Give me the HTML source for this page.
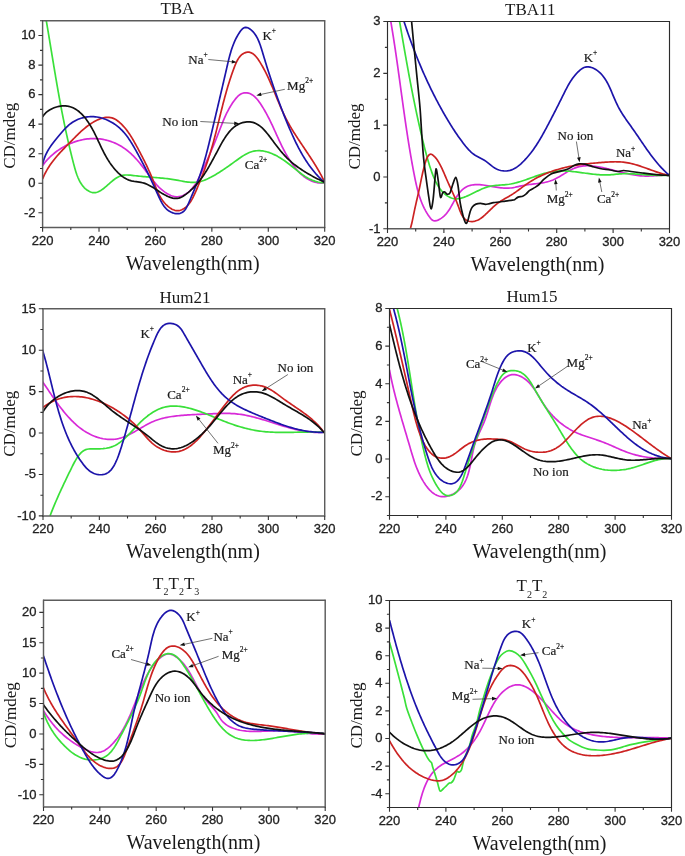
<!DOCTYPE html>
<html><head><meta charset="utf-8"><style>
html,body{margin:0;padding:0;background:#fff;}
svg{display:block;will-change:transform;}
.cv{fill:none;stroke-width:1.7;stroke-linejoin:round;stroke-linecap:round;}
.ax{fill:none;stroke:#6e6e6e;stroke-width:1.2;}
.axL{stroke:#5c5c5c;stroke-width:1.45;}
.axR{stroke:#2c2c2c;stroke-width:1.15;}
.tk{fill:none;stroke:#333;stroke-width:1.1;}
.tl{font-family:"Liberation Sans",sans-serif;font-size:13px;fill:#222;stroke:#222;stroke-width:0.3px;}
.xt{font-family:"Liberation Serif",serif;font-size:20px;fill:#1a1a1a;}
.yt{font-family:"Liberation Serif",serif;font-size:17px;fill:#1a1a1a;}
.tt{font-family:"Liberation Serif",serif;font-size:17px;fill:#1a1a1a;}
.sb{font-size:10px;}
.lb{font-family:"Liberation Serif",serif;font-size:13px;fill:#1a1a1a;stroke:#1a1a1a;stroke-width:0.2px;}
.sp{font-size:7.5px;}
.ar{fill:none;stroke:#333;stroke-width:0.7;}
.ah{fill:#111;stroke:none;}
</style></head><body>
<svg width="685" height="856" viewBox="0 0 685 856">
<clipPath id="c0"><rect x="42.60" y="20.80" width="282.10" height="206.70"/></clipPath>
<path d="M42.79,165.47 L43.66,164.24 L44.56,163.03 L45.52,161.84 L46.51,160.66 L47.54,159.50 L48.62,158.36 L49.73,157.25 L50.87,156.15 L52.06,155.08 L53.27,154.04 L54.52,153.01 L55.80,152.02 L57.11,151.05 L58.45,150.11 L59.81,149.20 L61.20,148.32 L62.61,147.47 L64.04,146.65 L65.50,145.87 L66.97,145.12 L68.46,144.41 L69.97,143.73 L71.50,143.09 L73.03,142.49 L74.58,141.92 L76.15,141.40 L77.72,140.92 L79.30,140.48 L80.88,140.08 L82.47,139.73 L84.07,139.42 L85.67,139.16 L87.27,138.94 L88.86,138.78 L90.46,138.66 L92.06,138.59 L93.65,138.57 L95.23,138.60 L96.82,138.67 L98.39,138.80 L99.96,138.96 L101.52,139.18 L103.07,139.44 L104.61,139.75 L106.15,140.10 L107.67,140.50 L109.18,140.94 L110.67,141.42 L112.16,141.95 L113.62,142.53 L115.07,143.14 L116.51,143.80 L117.93,144.50 L119.33,145.24 L120.71,146.02 L122.07,146.84 L123.41,147.71 L124.73,148.61 L126.02,149.55 L127.30,150.53 L128.55,151.55 L129.77,152.61 L130.98,153.69 L132.16,154.81 L133.33,155.96 L134.47,157.13 L135.60,158.33 L136.70,159.55 L137.79,160.78 L138.87,162.04 L139.92,163.31 L140.96,164.59 L141.99,165.89 L143.00,167.19 L144.00,168.50 L144.98,169.81 L145.96,171.13 L146.92,172.44 L147.89,173.75 L148.85,175.06 L149.82,176.36 L150.79,177.65 L151.77,178.92 L152.76,180.18 L153.77,181.42 L154.79,182.64 L155.83,183.85 L156.89,185.02 L157.98,186.17 L159.10,187.29 L160.25,188.38 L161.43,189.43 L162.65,190.45 L163.91,191.43 L165.21,192.37 L166.56,193.26 L167.95,194.08 L169.37,194.83 L170.83,195.49 L172.31,196.03 L173.81,196.43 L175.33,196.70 L176.86,196.79 L178.40,196.71 L179.94,196.44 L181.47,196.01 L182.96,195.44 L184.42,194.74 L185.82,193.94 L187.15,193.05 L188.42,192.08 L189.61,191.04 L190.75,189.94 L191.83,188.78 L192.86,187.56 L193.84,186.29 L194.77,184.98 L195.66,183.62 L196.51,182.23 L197.33,180.81 L198.12,179.36 L198.89,177.90 L199.63,176.42 L200.35,174.93 L201.06,173.43 L201.76,171.94 L202.45,170.45 L203.14,168.97 L203.82,167.49 L204.50,166.02 L205.17,164.55 L205.83,163.08 L206.49,161.62 L207.15,160.16 L207.80,158.71 L208.45,157.25 L209.09,155.80 L209.72,154.35 L210.35,152.89 L210.98,151.44 L211.60,149.99 L212.22,148.53 L212.83,147.07 L213.45,145.61 L214.05,144.15 L214.65,142.68 L215.25,141.21 L215.85,139.74 L216.44,138.25 L217.03,136.77 L217.61,135.27 L218.19,133.77 L218.77,132.27 L219.35,130.76 L219.93,129.24 L220.52,127.73 L221.11,126.21 L221.71,124.69 L222.31,123.18 L222.93,121.67 L223.56,120.16 L224.20,118.66 L224.85,117.16 L225.53,115.67 L226.22,114.19 L226.93,112.72 L227.67,111.27 L228.43,109.82 L229.21,108.39 L230.02,106.97 L230.86,105.57 L231.73,104.19 L232.63,102.83 L233.56,101.48 L234.53,100.16 L235.54,98.87 L236.59,97.63 L237.69,96.47 L238.85,95.43 L240.06,94.52 L241.33,93.78 L242.67,93.24 L244.08,92.90 L245.52,92.77 L246.98,92.84 L248.42,93.10 L249.82,93.54 L251.16,94.16 L252.45,94.93 L253.68,95.85 L254.87,96.88 L256.01,98.03 L257.11,99.26 L258.17,100.57 L259.19,101.93 L260.17,103.34 L261.13,104.77 L262.05,106.21 L262.95,107.64 L263.82,109.08 L264.67,110.53 L265.49,111.97 L266.30,113.41 L267.08,114.85 L267.85,116.30 L268.59,117.74 L269.32,119.19 L270.04,120.64 L270.75,122.08 L271.44,123.53 L272.12,124.97 L272.80,126.42 L273.46,127.86 L274.12,129.30 L274.78,130.75 L275.43,132.19 L276.08,133.63 L276.73,135.07 L277.38,136.50 L278.04,137.94 L278.69,139.37 L279.35,140.80 L280.02,142.23 L280.70,143.66 L281.39,145.08 L282.08,146.51 L282.79,147.93 L283.51,149.34 L284.25,150.75 L285.00,152.16 L285.77,153.57 L286.57,154.97 L287.38,156.37 L288.21,157.77 L289.06,159.16 L289.94,160.55 L290.85,161.92 L291.78,163.29 L292.74,164.64 L293.72,165.96 L294.73,167.27 L295.76,168.55 L296.83,169.80 L297.92,171.01 L299.04,172.19 L300.19,173.33 L301.37,174.42 L302.58,175.46 L303.82,176.46 L305.10,177.40 L306.40,178.28 L307.74,179.09 L309.11,179.85 L310.51,180.53 L311.94,181.14 L313.41,181.68 L314.92,182.13 L316.46,182.50 L318.04,182.79 L319.65,182.99 L321.30,183.09 L322.98,183.09 L324.71,183.00" stroke="#d82ad8" clip-path="url(#c0)" class="cv"/>
<path d="M46.30,20.79 L46.58,22.43 L46.86,24.06 L47.14,25.69 L47.41,27.31 L47.68,28.93 L47.96,30.55 L48.23,32.17 L48.50,33.78 L48.77,35.39 L49.03,37.00 L49.30,38.60 L49.57,40.20 L49.83,41.80 L50.09,43.40 L50.36,45.00 L50.62,46.59 L50.88,48.18 L51.14,49.77 L51.41,51.35 L51.67,52.94 L51.93,54.52 L52.19,56.10 L52.45,57.68 L52.71,59.26 L52.97,60.83 L53.23,62.41 L53.49,63.98 L53.75,65.55 L54.01,67.12 L54.27,68.69 L54.54,70.26 L54.80,71.82 L55.06,73.39 L55.33,74.95 L55.59,76.52 L55.86,78.08 L56.12,79.64 L56.39,81.20 L56.66,82.76 L56.93,84.32 L57.20,85.88 L57.47,87.44 L57.74,89.00 L58.02,90.56 L58.29,92.11 L58.57,93.67 L58.85,95.23 L59.13,96.79 L59.42,98.34 L59.70,99.90 L59.99,101.46 L60.28,103.02 L60.57,104.57 L60.86,106.13 L61.15,107.69 L61.45,109.25 L61.75,110.81 L62.05,112.37 L62.36,113.93 L62.67,115.50 L62.98,117.06 L63.29,118.62 L63.60,120.19 L63.92,121.76 L64.24,123.32 L64.57,124.89 L64.89,126.46 L65.23,128.03 L65.56,129.61 L65.90,131.18 L66.24,132.76 L66.58,134.33 L66.93,135.91 L67.28,137.49 L67.63,139.08 L67.99,140.66 L68.35,142.25 L68.72,143.84 L69.09,145.43 L69.46,147.02 L69.84,148.62 L70.22,150.21 L70.61,151.81 L71.00,153.42 L71.40,155.02 L71.80,156.63 L72.20,158.24 L72.61,159.85 L73.02,161.47 L73.44,163.09 L73.87,164.71 L74.30,166.33 L74.74,167.94 L75.20,169.55 L75.68,171.14 L76.18,172.71 L76.70,174.26 L77.26,175.78 L77.85,177.26 L78.47,178.72 L79.13,180.13 L79.84,181.50 L80.59,182.82 L81.39,184.09 L82.25,185.29 L83.16,186.44 L84.13,187.52 L85.16,188.53 L86.27,189.47 L87.44,190.33 L88.68,191.09 L89.98,191.74 L91.32,192.24 L92.70,192.57 L94.11,192.70 L95.53,192.61 L96.96,192.28 L98.38,191.74 L99.80,191.02 L101.19,190.17 L102.56,189.23 L103.90,188.22 L105.21,187.15 L106.51,186.05 L107.79,184.93 L109.07,183.80 L110.34,182.68 L111.62,181.57 L112.90,180.51 L114.20,179.50 L115.51,178.56 L116.84,177.69 L118.20,176.93 L119.60,176.28 L121.03,175.75 L122.50,175.37 L124.01,175.13 L125.56,175.01 L127.15,174.99 L128.75,175.05 L130.38,175.18 L132.01,175.35 L133.65,175.55 L135.29,175.74 L136.93,175.93 L138.56,176.10 L140.18,176.26 L141.80,176.42 L143.42,176.56 L145.03,176.70 L146.64,176.84 L148.24,176.97 L149.84,177.10 L151.44,177.23 L153.04,177.35 L154.63,177.48 L156.22,177.61 L157.81,177.75 L159.40,177.89 L160.98,178.04 L162.57,178.19 L164.15,178.35 L165.73,178.53 L167.32,178.71 L168.90,178.91 L170.48,179.12 L172.06,179.35 L173.65,179.59 L175.23,179.85 L176.82,180.13 L178.41,180.43 L180.00,180.73 L181.58,181.03 L183.17,181.32 L184.76,181.60 L186.35,181.84 L187.94,182.06 L189.52,182.22 L191.11,182.34 L192.69,182.39 L194.27,182.37 L195.85,182.27 L197.42,182.09 L198.99,181.81 L200.56,181.45 L202.12,181.00 L203.67,180.48 L205.20,179.89 L206.73,179.25 L208.23,178.56 L209.72,177.83 L211.19,177.07 L212.64,176.27 L214.07,175.47 L215.47,174.65 L216.84,173.82 L218.19,173.00 L219.52,172.16 L220.84,171.32 L222.14,170.48 L223.43,169.62 L224.71,168.76 L225.98,167.88 L227.26,167.00 L228.53,166.10 L229.81,165.19 L231.10,164.27 L232.40,163.34 L233.71,162.39 L235.04,161.43 L236.39,160.45 L237.76,159.46 L239.15,158.47 L240.56,157.49 L241.99,156.53 L243.43,155.61 L244.88,154.74 L246.34,153.93 L247.82,153.18 L249.30,152.53 L250.79,151.97 L252.29,151.51 L253.78,151.15 L255.29,150.90 L256.79,150.73 L258.30,150.66 L259.80,150.68 L261.31,150.78 L262.82,150.96 L264.32,151.22 L265.82,151.55 L267.31,151.95 L268.80,152.41 L270.29,152.94 L271.76,153.52 L273.23,154.16 L274.69,154.86 L276.14,155.59 L277.58,156.37 L279.01,157.20 L280.43,158.05 L281.83,158.94 L283.22,159.86 L284.59,160.81 L285.95,161.78 L287.29,162.76 L288.61,163.76 L289.92,164.77 L291.20,165.79 L292.48,166.81 L293.74,167.83 L294.99,168.84 L296.23,169.85 L297.48,170.85 L298.72,171.83 L299.97,172.79 L301.23,173.73 L302.49,174.65 L303.77,175.54 L305.06,176.39 L306.37,177.21 L307.71,177.98 L309.07,178.71 L310.46,179.40 L311.88,180.03 L313.33,180.61 L314.82,181.12 L316.35,181.58 L317.93,181.97 L319.55,182.29 L321.22,182.54 L322.94,182.71 L324.72,182.80" stroke="#3ae03a" clip-path="url(#c0)" class="cv"/>
<path d="M42.81,178.51 L43.45,176.96 L44.12,175.45 L44.83,173.96 L45.57,172.50 L46.34,171.07 L47.14,169.66 L47.97,168.28 L48.82,166.93 L49.70,165.59 L50.60,164.28 L51.52,162.98 L52.47,161.71 L53.43,160.45 L54.42,159.20 L55.42,157.98 L56.45,156.76 L57.48,155.56 L58.53,154.37 L59.60,153.19 L60.67,152.02 L61.76,150.86 L62.85,149.70 L63.96,148.55 L65.07,147.40 L66.19,146.25 L67.31,145.11 L68.43,143.97 L69.56,142.82 L70.69,141.68 L71.82,140.53 L72.95,139.38 L74.08,138.23 L75.22,137.08 L76.36,135.94 L77.51,134.81 L78.67,133.69 L79.84,132.57 L81.02,131.48 L82.22,130.40 L83.43,129.33 L84.67,128.29 L85.92,127.28 L87.19,126.29 L88.49,125.33 L89.81,124.39 L91.15,123.50 L92.53,122.63 L93.93,121.81 L95.36,121.02 L96.83,120.28 L98.32,119.60 L99.83,118.98 L101.35,118.45 L102.88,118.00 L104.41,117.66 L105.94,117.43 L107.46,117.33 L108.97,117.36 L110.45,117.54 L111.92,117.88 L113.35,118.38 L114.75,119.03 L116.12,119.82 L117.45,120.71 L118.74,121.71 L120.00,122.78 L121.21,123.92 L122.38,125.09 L123.50,126.30 L124.59,127.53 L125.63,128.78 L126.64,130.06 L127.62,131.37 L128.56,132.69 L129.48,134.02 L130.37,135.38 L131.23,136.75 L132.08,138.13 L132.90,139.51 L133.71,140.91 L134.50,142.32 L135.29,143.72 L136.06,145.14 L136.83,146.55 L137.60,147.96 L138.36,149.37 L139.11,150.78 L139.86,152.19 L140.60,153.60 L141.34,155.02 L142.07,156.43 L142.80,157.85 L143.52,159.27 L144.23,160.69 L144.94,162.12 L145.63,163.54 L146.32,164.98 L147.01,166.42 L147.68,167.86 L148.35,169.31 L149.00,170.76 L149.65,172.22 L150.29,173.69 L150.92,175.16 L151.54,176.64 L152.15,178.13 L152.75,179.62 L153.34,181.12 L153.92,182.63 L154.50,184.15 L155.09,185.66 L155.69,187.17 L156.30,188.67 L156.93,190.17 L157.59,191.65 L158.27,193.12 L159.00,194.58 L159.76,196.01 L160.58,197.42 L161.44,198.81 L162.36,200.17 L163.34,201.49 L164.39,202.79 L165.51,204.04 L166.70,205.24 L167.95,206.38 L169.25,207.42 L170.59,208.35 L171.96,209.16 L173.36,209.81 L174.77,210.31 L176.20,210.61 L177.63,210.72 L179.04,210.60 L180.44,210.28 L181.81,209.77 L183.14,209.10 L184.42,208.29 L185.63,207.37 L186.77,206.34 L187.84,205.24 L188.85,204.05 L189.80,202.80 L190.69,201.48 L191.54,200.11 L192.34,198.69 L193.11,197.23 L193.84,195.74 L194.55,194.22 L195.24,192.68 L195.91,191.14 L196.57,189.59 L197.22,188.05 L197.87,186.51 L198.51,184.97 L199.14,183.43 L199.77,181.90 L200.39,180.37 L201.00,178.85 L201.61,177.32 L202.21,175.80 L202.80,174.28 L203.38,172.75 L203.95,171.24 L204.52,169.72 L205.08,168.20 L205.63,166.69 L206.18,165.17 L206.71,163.65 L207.24,162.14 L207.76,160.62 L208.26,159.11 L208.76,157.59 L209.26,156.08 L209.74,154.56 L210.21,153.04 L210.68,151.52 L211.13,150.00 L211.58,148.48 L212.03,146.95 L212.46,145.43 L212.89,143.90 L213.31,142.38 L213.73,140.85 L214.14,139.32 L214.55,137.79 L214.95,136.26 L215.35,134.73 L215.74,133.20 L216.13,131.66 L216.52,130.13 L216.91,128.59 L217.29,127.05 L217.67,125.51 L218.05,123.97 L218.43,122.43 L218.81,120.89 L219.19,119.35 L219.57,117.80 L219.95,116.25 L220.33,114.71 L220.71,113.16 L221.09,111.61 L221.48,110.05 L221.87,108.50 L222.26,106.95 L222.65,105.39 L223.05,103.83 L223.45,102.28 L223.86,100.72 L224.27,99.16 L224.69,97.59 L225.12,96.03 L225.55,94.46 L225.98,92.90 L226.43,91.33 L226.88,89.76 L227.34,88.19 L227.80,86.61 L228.28,85.04 L228.76,83.46 L229.26,81.89 L229.76,80.31 L230.27,78.73 L230.80,77.15 L231.33,75.56 L231.88,73.98 L232.44,72.39 L233.01,70.80 L233.59,69.22 L234.19,67.62 L234.80,66.04 L235.44,64.46 L236.10,62.92 L236.81,61.43 L237.56,59.99 L238.37,58.63 L239.24,57.36 L240.18,56.19 L241.20,55.14 L242.31,54.22 L243.51,53.45 L244.81,52.84 L246.16,52.41 L247.53,52.19 L248.87,52.20 L250.17,52.44 L251.41,52.90 L252.60,53.56 L253.75,54.40 L254.85,55.39 L255.91,56.52 L256.93,57.75 L257.92,59.08 L258.87,60.47 L259.79,61.91 L260.68,63.37 L261.55,64.83 L262.40,66.30 L263.22,67.77 L264.02,69.24 L264.80,70.72 L265.56,72.20 L266.30,73.68 L267.03,75.16 L267.74,76.64 L268.43,78.12 L269.11,79.60 L269.78,81.09 L270.43,82.57 L271.07,84.06 L271.71,85.54 L272.34,87.02 L272.96,88.50 L273.57,89.99 L274.18,91.47 L274.78,92.95 L275.38,94.42 L275.98,95.90 L276.58,97.37 L277.18,98.84 L277.78,100.31 L278.38,101.78 L278.99,103.24 L279.60,104.70 L280.22,106.16 L280.84,107.61 L281.47,109.06 L282.12,110.50 L282.77,111.94 L283.43,113.38 L284.11,114.81 L284.80,116.23 L285.50,117.65 L286.22,119.07 L286.96,120.48 L287.71,121.88 L288.48,123.28 L289.27,124.67 L290.06,126.06 L290.87,127.44 L291.70,128.82 L292.53,130.20 L293.37,131.57 L294.23,132.94 L295.09,134.30 L295.96,135.66 L296.84,137.02 L297.73,138.38 L298.62,139.74 L299.51,141.09 L300.41,142.44 L301.32,143.80 L302.22,145.15 L303.13,146.50 L304.04,147.85 L304.95,149.20 L305.85,150.55 L306.76,151.90 L307.66,153.25 L308.56,154.60 L309.46,155.95 L310.35,157.31 L311.24,158.67 L312.12,160.03 L312.99,161.39 L313.86,162.75 L314.71,164.12 L315.56,165.49 L316.40,166.87 L317.22,168.25 L318.03,169.63 L318.83,171.02 L319.62,172.41 L320.39,173.81 L321.15,175.21 L321.89,176.62 L322.61,178.03 L323.32,179.45 L324.01,180.87 L324.67,182.31" stroke="#cc2222" clip-path="url(#c0)" class="cv"/>
<path d="M42.80,163.50 L43.21,161.85 L43.67,160.24 L44.19,158.67 L44.76,157.14 L45.37,155.65 L46.03,154.20 L46.73,152.77 L47.47,151.37 L48.25,150.01 L49.07,148.66 L49.92,147.34 L50.79,146.03 L51.70,144.75 L52.64,143.47 L53.60,142.21 L54.57,140.96 L55.57,139.71 L56.59,138.47 L57.62,137.23 L58.66,135.99 L59.71,134.74 L60.77,133.49 L61.84,132.24 L62.92,131.01 L64.03,129.78 L65.15,128.59 L66.30,127.42 L67.47,126.29 L68.68,125.20 L69.92,124.17 L71.20,123.20 L72.52,122.29 L73.87,121.45 L75.26,120.67 L76.69,119.96 L78.14,119.32 L79.62,118.74 L81.12,118.24 L82.64,117.80 L84.18,117.43 L85.74,117.13 L87.31,116.90 L88.89,116.74 L90.47,116.65 L92.06,116.63 L93.65,116.68 L95.24,116.81 L96.82,117.00 L98.40,117.27 L99.97,117.60 L101.52,118.00 L103.07,118.46 L104.60,118.98 L106.11,119.56 L107.60,120.20 L109.07,120.89 L110.52,121.64 L111.93,122.43 L113.32,123.28 L114.68,124.17 L116.01,125.11 L117.30,126.10 L118.56,127.12 L119.77,128.19 L120.94,129.29 L122.08,130.43 L123.17,131.60 L124.23,132.80 L125.26,134.03 L126.26,135.29 L127.23,136.57 L128.17,137.87 L129.08,139.19 L129.97,140.53 L130.85,141.89 L131.70,143.25 L132.53,144.63 L133.35,146.02 L134.16,147.41 L134.96,148.80 L135.75,150.20 L136.53,151.60 L137.30,153.00 L138.07,154.39 L138.84,155.79 L139.59,157.18 L140.35,158.58 L141.09,159.98 L141.83,161.38 L142.57,162.78 L143.30,164.18 L144.03,165.59 L144.76,167.00 L145.48,168.41 L146.19,169.83 L146.91,171.25 L147.61,172.67 L148.32,174.10 L149.02,175.54 L149.72,176.98 L150.42,178.43 L151.11,179.88 L151.80,181.34 L152.49,182.81 L153.18,184.29 L153.87,185.77 L154.55,187.27 L155.23,188.77 L155.91,190.28 L156.59,191.80 L157.27,193.33 L157.95,194.87 L158.64,196.41 L159.34,197.94 L160.07,199.45 L160.82,200.94 L161.60,202.39 L162.43,203.79 L163.30,205.14 L164.23,206.42 L165.23,207.63 L166.29,208.76 L167.42,209.80 L168.64,210.74 L169.95,211.57 L171.34,212.28 L172.80,212.87 L174.30,213.30 L175.82,213.58 L177.33,213.68 L178.81,213.59 L180.23,213.30 L181.56,212.80 L182.79,212.07 L183.91,211.11 L184.92,209.97 L185.84,208.66 L186.68,207.22 L187.47,205.70 L188.20,204.11 L188.91,202.49 L189.60,200.87 L190.27,199.28 L190.94,197.72 L191.60,196.17 L192.25,194.65 L192.89,193.14 L193.52,191.65 L194.14,190.17 L194.76,188.70 L195.36,187.24 L195.96,185.78 L196.54,184.33 L197.11,182.87 L197.68,181.42 L198.23,179.96 L198.78,178.49 L199.31,177.01 L199.84,175.53 L200.35,174.04 L200.85,172.54 L201.35,171.04 L201.84,169.53 L202.32,168.01 L202.79,166.49 L203.25,164.96 L203.71,163.42 L204.16,161.88 L204.60,160.34 L205.03,158.79 L205.46,157.24 L205.89,155.68 L206.30,154.12 L206.72,152.56 L207.12,150.99 L207.53,149.42 L207.93,147.85 L208.32,146.28 L208.71,144.71 L209.10,143.13 L209.48,141.55 L209.86,139.98 L210.24,138.40 L210.62,136.82 L211.00,135.25 L211.37,133.67 L211.74,132.10 L212.11,130.52 L212.48,128.95 L212.85,127.38 L213.22,125.81 L213.59,124.25 L213.96,122.68 L214.33,121.12 L214.70,119.55 L215.07,117.99 L215.44,116.43 L215.80,114.87 L216.17,113.32 L216.54,111.76 L216.90,110.20 L217.27,108.65 L217.63,107.09 L218.00,105.54 L218.37,103.99 L218.73,102.43 L219.10,100.88 L219.46,99.32 L219.82,97.77 L220.19,96.22 L220.55,94.66 L220.92,93.11 L221.28,91.55 L221.64,90.00 L222.01,88.44 L222.37,86.89 L222.73,85.33 L223.09,83.77 L223.46,82.21 L223.82,80.65 L224.18,79.09 L224.54,77.53 L224.90,75.97 L225.27,74.40 L225.63,72.83 L225.99,71.26 L226.35,69.69 L226.71,68.12 L227.07,66.55 L227.44,64.97 L227.80,63.40 L228.17,61.82 L228.55,60.24 L228.94,58.67 L229.35,57.10 L229.76,55.53 L230.20,53.97 L230.65,52.41 L231.12,50.85 L231.62,49.31 L232.14,47.77 L232.68,46.24 L233.26,44.71 L233.87,43.20 L234.51,41.70 L235.19,40.20 L235.91,38.72 L236.66,37.26 L237.46,35.80 L238.30,34.36 L239.19,32.94 L240.13,31.54 L241.12,30.22 L242.17,29.06 L243.28,28.14 L244.45,27.55 L245.68,27.35 L246.97,27.55 L248.27,28.05 L249.54,28.77 L250.74,29.63 L251.87,30.58 L252.93,31.62 L253.91,32.74 L254.83,33.94 L255.69,35.20 L256.50,36.54 L257.25,37.93 L257.96,39.37 L258.62,40.86 L259.25,42.39 L259.84,43.95 L260.40,45.54 L260.94,47.15 L261.46,48.77 L261.96,50.41 L262.46,52.05 L262.94,53.68 L263.42,55.31 L263.91,56.92 L264.39,58.53 L264.87,60.12 L265.35,61.70 L265.83,63.27 L266.32,64.83 L266.80,66.39 L267.29,67.93 L267.77,69.47 L268.26,71.00 L268.75,72.52 L269.24,74.04 L269.74,75.55 L270.23,77.05 L270.73,78.55 L271.23,80.05 L271.73,81.54 L272.23,83.03 L272.74,84.52 L273.25,86.00 L273.76,87.49 L274.28,88.97 L274.80,90.45 L275.32,91.93 L275.85,93.41 L276.38,94.89 L276.92,96.37 L277.46,97.86 L278.00,99.34 L278.55,100.83 L279.10,102.33 L279.66,103.82 L280.22,105.32 L280.79,106.81 L281.36,108.31 L281.94,109.81 L282.52,111.31 L283.11,112.81 L283.70,114.32 L284.29,115.82 L284.89,117.32 L285.50,118.82 L286.11,120.32 L286.72,121.82 L287.34,123.32 L287.96,124.82 L288.59,126.31 L289.22,127.80 L289.86,129.30 L290.50,130.78 L291.15,132.27 L291.81,133.75 L292.47,135.23 L293.14,136.71 L293.81,138.18 L294.50,139.64 L295.19,141.10 L295.89,142.55 L296.61,144.00 L297.33,145.44 L298.06,146.87 L298.80,148.30 L299.56,149.72 L300.33,151.13 L301.10,152.53 L301.90,153.92 L302.70,155.31 L303.52,156.68 L304.35,158.04 L305.20,159.39 L306.06,160.73 L306.94,162.06 L307.83,163.38 L308.74,164.69 L309.67,165.98 L310.62,167.26 L311.58,168.53 L312.56,169.78 L313.56,171.02 L314.58,172.24 L315.61,173.45 L316.67,174.64 L317.75,175.82 L318.85,176.98 L319.97,178.12 L321.12,179.25 L322.28,180.36 L323.47,181.45 L324.68,182.52" stroke="#1c14aa" clip-path="url(#c0)" class="cv"/>
<path d="M42.81,116.50 L43.63,115.26 L44.58,114.09 L45.66,112.97 L46.85,111.92 L48.14,110.93 L49.52,110.02 L50.98,109.19 L52.49,108.44 L54.07,107.77 L55.68,107.20 L57.32,106.71 L58.98,106.33 L60.65,106.05 L62.31,105.87 L63.95,105.81 L65.56,105.86 L67.14,106.03 L68.67,106.31 L70.16,106.70 L71.61,107.19 L73.02,107.79 L74.39,108.47 L75.72,109.24 L77.01,110.09 L78.27,111.01 L79.48,112.01 L80.66,113.06 L81.80,114.18 L82.91,115.34 L83.98,116.55 L85.02,117.80 L86.02,119.09 L86.99,120.41 L87.92,121.74 L88.83,123.10 L89.70,124.47 L90.54,125.85 L91.35,127.24 L92.14,128.64 L92.91,130.05 L93.66,131.47 L94.39,132.89 L95.10,134.32 L95.80,135.75 L96.49,137.19 L97.18,138.64 L97.86,140.08 L98.53,141.53 L99.21,142.98 L99.89,144.43 L100.57,145.88 L101.26,147.33 L101.96,148.77 L102.67,150.21 L103.39,151.65 L104.13,153.08 L104.89,154.51 L105.67,155.93 L106.48,157.34 L107.31,158.75 L108.16,160.14 L109.04,161.51 L109.94,162.87 L110.87,164.21 L111.83,165.53 L112.81,166.82 L113.82,168.09 L114.86,169.32 L115.93,170.53 L117.02,171.70 L118.15,172.84 L119.31,173.93 L120.49,174.98 L121.72,175.97 L122.98,176.90 L124.27,177.77 L125.60,178.56 L126.98,179.27 L128.40,179.90 L129.85,180.43 L131.36,180.87 L132.91,181.21 L134.49,181.47 L136.09,181.69 L137.71,181.90 L139.32,182.12 L140.91,182.38 L142.48,182.71 L144.01,183.14 L145.50,183.66 L146.97,184.26 L148.40,184.93 L149.82,185.66 L151.22,186.44 L152.60,187.27 L153.98,188.13 L155.34,189.01 L156.71,189.91 L158.08,190.82 L159.45,191.72 L160.84,192.61 L162.24,193.48 L163.65,194.31 L165.09,195.11 L166.56,195.86 L168.06,196.55 L169.58,197.15 L171.11,197.67 L172.66,198.06 L174.20,198.32 L175.74,198.43 L177.26,198.37 L178.76,198.11 L180.24,197.65 L181.68,196.99 L183.09,196.20 L184.46,195.30 L185.80,194.34 L187.11,193.34 L188.37,192.33 L189.61,191.29 L190.81,190.23 L191.98,189.15 L193.11,188.04 L194.22,186.92 L195.30,185.77 L196.36,184.61 L197.38,183.43 L198.39,182.22 L199.37,181.01 L200.33,179.77 L201.26,178.52 L202.18,177.25 L203.08,175.96 L203.96,174.66 L204.83,173.35 L205.68,172.02 L206.52,170.68 L207.35,169.32 L208.16,167.96 L208.97,166.58 L209.77,165.19 L210.56,163.79 L211.34,162.38 L212.12,160.96 L212.90,159.53 L213.67,158.10 L214.44,156.65 L215.22,155.20 L215.99,153.74 L216.77,152.28 L217.55,150.81 L218.33,149.34 L219.12,147.86 L219.92,146.38 L220.73,144.90 L221.55,143.42 L222.39,141.95 L223.24,140.50 L224.11,139.07 L225.00,137.66 L225.91,136.29 L226.85,134.94 L227.82,133.64 L228.81,132.37 L229.84,131.16 L230.90,130.00 L232.00,128.89 L233.14,127.85 L234.31,126.88 L235.54,125.97 L236.80,125.15 L238.12,124.40 L239.48,123.74 L240.89,123.17 L242.35,122.69 L243.84,122.32 L245.36,122.05 L246.88,121.89 L248.41,121.84 L249.94,121.91 L251.44,122.10 L252.92,122.42 L254.36,122.88 L255.76,123.46 L257.12,124.16 L258.44,124.97 L259.73,125.89 L260.98,126.89 L262.20,127.98 L263.39,129.13 L264.55,130.35 L265.68,131.62 L266.79,132.93 L267.88,134.27 L268.94,135.63 L269.99,137.00 L271.01,138.38 L272.03,139.74 L273.02,141.09 L274.01,142.42 L274.99,143.73 L275.97,145.02 L276.94,146.29 L277.91,147.55 L278.88,148.78 L279.86,150.00 L280.85,151.20 L281.84,152.38 L282.85,153.55 L283.87,154.70 L284.92,155.83 L285.98,156.94 L287.06,158.04 L288.17,159.12 L289.31,160.19 L290.48,161.24 L291.67,162.27 L292.89,163.29 L294.14,164.30 L295.40,165.28 L296.69,166.25 L298.00,167.21 L299.33,168.15 L300.68,169.07 L302.04,169.98 L303.41,170.87 L304.80,171.75 L306.20,172.61 L307.61,173.45 L309.02,174.27 L310.44,175.09 L311.87,175.88 L313.30,176.66 L314.74,177.42 L316.17,178.16 L317.60,178.89 L319.03,179.61 L320.46,180.30 L321.88,180.98 L323.29,181.64 L324.70,182.29" stroke="#111111" clip-path="url(#c0)" class="cv"/>
<path d="M42.10,20.80H325.20" class="ax axL"/>
<path d="M42.10,227.50H325.20" class="ax axL"/>
<path d="M42.60,20.30V228.00" class="ax axL"/>
<path d="M324.70,20.30V228.00" class="ax axL"/>
<path d="M42.60,227.50H40.00 M42.60,212.74H38.40 M42.60,197.97H40.00 M42.60,183.21H38.40 M42.60,168.44H40.00 M42.60,153.68H38.40 M42.60,138.91H40.00 M42.60,124.15H38.40 M42.60,109.39H40.00 M42.60,94.62H38.40 M42.60,79.86H40.00 M42.60,65.09H38.40 M42.60,50.33H40.00 M42.60,35.56H38.40 M42.60,20.80H40.00 M42.60,227.50V231.70 M70.81,227.50V230.10 M99.02,227.50V231.70 M127.23,227.50V230.10 M155.44,227.50V231.70 M183.65,227.50V230.10 M211.86,227.50V231.70 M240.07,227.50V230.10 M268.28,227.50V231.70 M296.49,227.50V230.10 M324.70,227.50V231.70" class="tk"/>
<text x="35.60" y="216.54" class="tl" text-anchor="end">-2</text>
<text x="35.60" y="187.01" class="tl" text-anchor="end">0</text>
<text x="35.60" y="157.48" class="tl" text-anchor="end">2</text>
<text x="35.60" y="127.95" class="tl" text-anchor="end">4</text>
<text x="35.60" y="98.42" class="tl" text-anchor="end">6</text>
<text x="35.60" y="68.89" class="tl" text-anchor="end">8</text>
<text x="35.60" y="39.36" class="tl" text-anchor="end">10</text>
<text x="42.60" y="245.00" class="tl" text-anchor="middle">220</text>
<text x="99.02" y="245.00" class="tl" text-anchor="middle">240</text>
<text x="155.44" y="245.00" class="tl" text-anchor="middle">260</text>
<text x="211.86" y="245.00" class="tl" text-anchor="middle">280</text>
<text x="268.28" y="245.00" class="tl" text-anchor="middle">300</text>
<text x="324.70" y="245.00" class="tl" text-anchor="middle">320</text>
<text x="192.65" y="269.50" class="xt" text-anchor="middle">Wavelength(nm)</text>
<text transform="translate(14.60,135.80) rotate(-90)" class="yt" text-anchor="middle">CD/mdeg</text>
<text x="160.40" y="14.30" class="tt"><tspan y="14.30">TBA</tspan></text>
<text x="262.40" y="39.50" class="lb">K<tspan class="sp" dy="-6.5">+</tspan></text>
<text x="188.30" y="63.80" class="lb">Na<tspan class="sp" dy="-6.5">+</tspan></text>
<text x="287.10" y="89.70" class="lb">Mg<tspan class="sp" dy="-6.5">2+</tspan></text>
<text x="162.30" y="126.00" class="lb">No ion</text>
<text x="244.80" y="168.80" class="lb">Ca<tspan class="sp" dy="-6.5">2+</tspan></text>
<path d="M208.30,59.50L232.32,61.78" class="ar"/><path d="M236.80,62.20L231.65,63.52L231.99,59.94Z" class="ah"/>
<path d="M284.80,89.30L260.70,94.46" class="ar"/><path d="M256.30,95.40L260.81,92.59L261.57,96.11Z" class="ah"/>
<path d="M200.30,121.50L234.71,123.36" class="ar"/><path d="M239.20,123.60L234.11,125.13L234.30,121.53Z" class="ah"/>
<clipPath id="c1"><rect x="387.50" y="21.50" width="282.00" height="207.30"/></clipPath>
<path d="M390.80,21.50 L391.07,23.10 L391.34,24.69 L391.61,26.29 L391.88,27.89 L392.14,29.49 L392.40,31.08 L392.66,32.68 L392.92,34.27 L393.17,35.87 L393.42,37.47 L393.67,39.06 L393.92,40.66 L394.16,42.25 L394.41,43.85 L394.65,45.44 L394.89,47.04 L395.13,48.63 L395.37,50.22 L395.60,51.82 L395.84,53.41 L396.07,55.00 L396.30,56.60 L396.53,58.19 L396.76,59.78 L396.99,61.38 L397.21,62.97 L397.44,64.56 L397.66,66.15 L397.89,67.75 L398.11,69.34 L398.33,70.93 L398.55,72.52 L398.77,74.11 L398.99,75.71 L399.21,77.30 L399.43,78.89 L399.65,80.48 L399.87,82.07 L400.09,83.66 L400.30,85.25 L400.52,86.84 L400.74,88.43 L400.96,90.03 L401.17,91.62 L401.39,93.21 L401.61,94.80 L401.83,96.39 L402.05,97.98 L402.27,99.57 L402.49,101.16 L402.71,102.75 L402.93,104.34 L403.15,105.93 L403.37,107.52 L403.59,109.12 L403.82,110.71 L404.04,112.30 L404.27,113.89 L404.49,115.48 L404.72,117.07 L404.95,118.66 L405.18,120.25 L405.41,121.84 L405.64,123.43 L405.88,125.03 L406.11,126.62 L406.35,128.21 L406.59,129.80 L406.83,131.39 L407.07,132.98 L407.31,134.58 L407.56,136.17 L407.80,137.76 L408.05,139.35 L408.30,140.95 L408.56,142.54 L408.81,144.13 L409.07,145.72 L409.33,147.32 L409.59,148.91 L409.86,150.50 L410.13,152.10 L410.40,153.69 L410.67,155.29 L410.95,156.88 L411.22,158.48 L411.50,160.07 L411.79,161.66 L412.08,163.26 L412.36,164.86 L412.66,166.45 L412.95,168.05 L413.25,169.64 L413.56,171.24 L413.86,172.84 L414.17,174.43 L414.48,176.03 L414.80,177.63 L415.13,179.22 L415.46,180.81 L415.80,182.40 L416.15,183.99 L416.52,185.57 L416.89,187.15 L417.28,188.72 L417.69,190.28 L418.12,191.84 L418.56,193.39 L419.02,194.93 L419.50,196.46 L420.01,197.99 L420.54,199.50 L421.09,201.00 L421.67,202.48 L422.28,203.96 L422.91,205.42 L423.58,206.86 L424.28,208.30 L425.01,209.71 L425.77,211.11 L426.57,212.49 L427.41,213.85 L428.28,215.20 L429.19,216.53 L430.15,217.83 L431.17,219.04 L432.27,220.04 L433.51,220.72 L434.90,220.94 L436.43,220.71 L438.03,220.13 L439.61,219.33 L441.10,218.40 L442.47,217.41 L443.74,216.35 L444.91,215.24 L446.00,214.07 L447.02,212.85 L447.97,211.59 L448.87,210.29 L449.72,208.95 L450.54,207.58 L451.34,206.18 L452.13,204.76 L452.91,203.33 L453.71,201.88 L454.52,200.42 L455.36,198.96 L456.24,197.50 L457.16,196.05 L458.12,194.64 L459.13,193.27 L460.18,191.97 L461.28,190.75 L462.43,189.61 L463.63,188.59 L464.89,187.69 L466.20,186.92 L467.56,186.27 L468.96,185.75 L470.41,185.33 L471.89,185.02 L473.42,184.80 L474.97,184.66 L476.54,184.60 L478.14,184.62 L479.76,184.69 L481.40,184.83 L483.05,185.00 L484.70,185.22 L486.36,185.47 L488.02,185.74 L489.67,186.02 L491.32,186.32 L492.95,186.61 L494.57,186.89 L496.17,187.16 L497.76,187.41 L499.34,187.63 L500.91,187.82 L502.47,187.97 L504.03,188.08 L505.58,188.15 L507.14,188.15 L508.70,188.10 L510.27,187.98 L511.85,187.79 L513.43,187.54 L515.02,187.24 L516.62,186.90 L518.22,186.55 L519.83,186.19 L521.44,185.84 L523.06,185.51 L524.67,185.22 L526.29,184.96 L527.91,184.73 L529.52,184.51 L531.13,184.31 L532.75,184.12 L534.35,183.93 L535.95,183.73 L537.55,183.53 L539.14,183.32 L540.72,183.09 L542.29,182.83 L543.85,182.55 L545.41,182.23 L546.95,181.87 L548.48,181.46 L549.99,181.01 L551.49,180.49 L552.98,179.92 L554.45,179.27 L555.90,178.57 L557.35,177.81 L558.78,177.02 L560.20,176.19 L561.62,175.34 L563.04,174.47 L564.45,173.60 L565.87,172.73 L567.29,171.88 L568.71,171.05 L570.14,170.25 L571.58,169.50 L573.03,168.80 L574.49,168.16 L575.97,167.59 L577.47,167.10 L578.99,166.69 L580.53,166.37 L582.08,166.11 L583.64,165.93 L585.21,165.81 L586.80,165.76 L588.39,165.76 L589.99,165.82 L591.59,165.92 L593.20,166.07 L594.80,166.26 L596.41,166.49 L598.02,166.75 L599.62,167.03 L601.21,167.35 L602.80,167.68 L604.38,168.02 L605.95,168.38 L607.51,168.75 L609.07,169.13 L610.63,169.52 L612.18,169.92 L613.74,170.32 L615.29,170.72 L616.85,171.12 L618.40,171.52 L619.96,171.92 L621.52,172.31 L623.09,172.69 L624.66,173.06 L626.22,173.43 L627.80,173.77 L629.37,174.10 L630.95,174.42 L632.53,174.71 L634.11,174.98 L635.70,175.22 L637.29,175.44 L638.88,175.63 L640.48,175.78 L642.08,175.91 L643.69,175.99 L645.29,176.04 L646.91,176.06 L648.52,176.03 L650.14,175.97 L651.76,175.89 L653.38,175.79 L655.00,175.68 L656.63,175.57 L658.25,175.46 L659.87,175.36 L661.48,175.29 L663.10,175.23 L664.70,175.21 L666.31,175.22 L667.91,175.29 L669.50,175.40" stroke="#d82ad8" clip-path="url(#c1)" class="cv"/>
<path d="M399.59,21.50 L399.86,23.08 L400.13,24.66 L400.40,26.24 L400.67,27.82 L400.94,29.40 L401.21,30.99 L401.48,32.57 L401.75,34.15 L402.03,35.74 L402.30,37.32 L402.57,38.91 L402.85,40.50 L403.12,42.08 L403.40,43.67 L403.67,45.26 L403.95,46.85 L404.22,48.44 L404.50,50.02 L404.78,51.61 L405.06,53.20 L405.34,54.79 L405.62,56.38 L405.91,57.97 L406.19,59.56 L406.47,61.15 L406.76,62.74 L407.05,64.33 L407.34,65.93 L407.62,67.52 L407.91,69.11 L408.21,70.70 L408.50,72.29 L408.79,73.88 L409.09,75.47 L409.38,77.06 L409.68,78.65 L409.98,80.24 L410.28,81.83 L410.58,83.41 L410.89,85.00 L411.19,86.59 L411.50,88.18 L411.81,89.77 L412.12,91.35 L412.43,92.94 L412.74,94.52 L413.06,96.11 L413.37,97.69 L413.69,99.28 L414.01,100.86 L414.34,102.44 L414.66,104.02 L414.99,105.61 L415.31,107.19 L415.64,108.77 L415.97,110.34 L416.31,111.92 L416.64,113.50 L416.98,115.07 L417.32,116.65 L417.66,118.22 L418.01,119.80 L418.35,121.37 L418.70,122.94 L419.05,124.51 L419.41,126.08 L419.76,127.64 L420.12,129.21 L420.48,130.77 L420.84,132.34 L421.21,133.90 L421.58,135.46 L421.95,137.02 L422.32,138.58 L422.70,140.13 L423.07,141.69 L423.45,143.24 L423.84,144.79 L424.22,146.34 L424.61,147.89 L425.01,149.44 L425.41,150.99 L425.81,152.53 L426.22,154.08 L426.64,155.62 L427.07,157.16 L427.50,158.71 L427.95,160.25 L428.41,161.79 L428.87,163.34 L429.35,164.88 L429.84,166.42 L430.34,167.97 L430.86,169.51 L431.40,171.06 L431.94,172.61 L432.51,174.15 L433.10,175.69 L433.72,177.21 L434.36,178.73 L435.04,180.23 L435.75,181.70 L436.51,183.16 L437.30,184.59 L438.14,185.99 L439.03,187.35 L439.97,188.68 L440.97,189.97 L442.02,191.21 L443.13,192.39 L444.30,193.52 L445.51,194.56 L446.77,195.52 L448.07,196.38 L449.42,197.13 L450.80,197.76 L452.22,198.26 L453.66,198.62 L455.14,198.82 L456.64,198.87 L458.17,198.76 L459.71,198.51 L461.25,198.14 L462.81,197.68 L464.36,197.13 L465.90,196.52 L467.43,195.87 L468.94,195.18 L470.44,194.48 L471.93,193.76 L473.42,193.03 L474.89,192.30 L476.36,191.57 L477.83,190.86 L479.30,190.16 L480.78,189.48 L482.26,188.84 L483.75,188.23 L485.24,187.67 L486.76,187.16 L488.28,186.71 L489.82,186.32 L491.38,186.00 L492.96,185.74 L494.56,185.54 L496.16,185.37 L497.77,185.24 L499.39,185.12 L501.00,185.02 L502.62,184.91 L504.23,184.80 L505.84,184.66 L507.43,184.49 L509.01,184.27 L510.58,184.01 L512.14,183.71 L513.69,183.38 L515.24,183.01 L516.78,182.61 L518.31,182.18 L519.84,181.72 L521.38,181.24 L522.91,180.74 L524.44,180.22 L525.97,179.69 L527.50,179.15 L529.04,178.60 L530.57,178.05 L532.10,177.49 L533.64,176.94 L535.17,176.39 L536.71,175.85 L538.25,175.33 L539.79,174.82 L541.34,174.32 L542.88,173.85 L544.43,173.41 L545.99,172.99 L547.54,172.60 L549.10,172.25 L550.66,171.93 L552.23,171.66 L553.80,171.43 L555.37,171.25 L556.95,171.11 L558.53,171.01 L560.12,170.95 L561.71,170.93 L563.30,170.94 L564.89,170.98 L566.49,171.05 L568.09,171.15 L569.69,171.27 L571.30,171.41 L572.90,171.57 L574.51,171.75 L576.12,171.94 L577.73,172.14 L579.35,172.36 L580.96,172.57 L582.57,172.80 L584.19,173.02 L585.81,173.24 L587.42,173.46 L589.04,173.68 L590.65,173.88 L592.27,174.08 L593.88,174.26 L595.50,174.43 L597.11,174.58 L598.72,174.70 L600.33,174.81 L601.94,174.89 L603.55,174.94 L605.16,174.96 L606.76,174.94 L608.36,174.89 L609.96,174.81 L611.56,174.68 L613.15,174.53 L614.74,174.36 L616.34,174.19 L617.93,174.03 L619.53,173.89 L621.13,173.79 L622.74,173.73 L624.35,173.69 L625.96,173.68 L627.57,173.70 L629.18,173.74 L630.80,173.80 L632.41,173.87 L634.03,173.95 L635.65,174.05 L637.26,174.14 L638.88,174.25 L640.49,174.35 L642.11,174.46 L643.72,174.57 L645.33,174.68 L646.95,174.79 L648.56,174.90 L650.17,175.00 L651.78,175.09 L653.40,175.18 L655.01,175.26 L656.62,175.33 L658.23,175.39 L659.84,175.44 L661.45,175.47 L663.06,175.49 L664.67,175.50 L666.28,175.48 L667.89,175.45 L669.50,175.40" stroke="#3ae03a" clip-path="url(#c1)" class="cv"/>
<path d="M409.80,230.00 L410.22,228.89 L410.63,227.64 L411.02,226.28 L411.41,224.81 L411.79,223.25 L412.16,221.61 L412.53,219.92 L412.89,218.19 L413.25,216.43 L413.61,214.66 L413.97,212.89 L414.33,211.15 L414.69,209.44 L415.05,207.75 L415.42,206.09 L415.78,204.46 L416.14,202.85 L416.50,201.26 L416.86,199.69 L417.22,198.14 L417.57,196.60 L417.92,195.08 L418.26,193.57 L418.60,192.07 L418.94,190.58 L419.27,189.09 L419.59,187.62 L419.90,186.14 L420.21,184.67 L420.51,183.19 L420.81,181.70 L421.11,180.20 L421.41,178.68 L421.73,177.14 L422.06,175.57 L422.41,173.95 L422.78,172.30 L423.18,170.60 L423.61,168.85 L424.07,167.04 L424.57,165.16 L425.11,163.26 L425.70,161.38 L426.33,159.59 L427.02,157.95 L427.76,156.54 L428.56,155.40 L429.42,154.60 L430.35,154.21 L431.34,154.27 L432.38,154.77 L433.43,155.56 L434.46,156.54 L435.46,157.63 L436.41,158.81 L437.32,160.08 L438.20,161.42 L439.05,162.83 L439.87,164.30 L440.66,165.81 L441.42,167.37 L442.16,168.95 L442.89,170.55 L443.60,172.16 L444.29,173.77 L444.97,175.37 L445.64,176.95 L446.30,178.51 L446.96,180.03 L447.62,181.52 L448.27,182.98 L448.92,184.41 L449.56,185.82 L450.20,187.22 L450.84,188.60 L451.47,189.98 L452.10,191.35 L452.72,192.73 L453.34,194.11 L453.96,195.50 L454.58,196.91 L455.19,198.34 L455.80,199.79 L456.40,201.27 L457.00,202.78 L457.60,204.32 L458.19,205.91 L458.79,207.54 L459.39,209.20 L460.01,210.85 L460.67,212.48 L461.38,214.05 L462.15,215.54 L463.00,216.91 L463.95,218.16 L465.00,219.24 L466.17,220.13 L467.47,220.80 L468.89,221.25 L470.41,221.49 L471.98,221.53 L473.58,221.38 L475.16,221.05 L476.69,220.55 L478.17,219.91 L479.59,219.13 L480.95,218.25 L482.27,217.27 L483.55,216.22 L484.80,215.11 L486.02,213.97 L487.21,212.82 L488.38,211.66 L489.55,210.53 L490.70,209.40 L491.86,208.30 L493.02,207.22 L494.19,206.16 L495.38,205.13 L496.60,204.13 L497.84,203.16 L499.12,202.23 L500.44,201.34 L501.80,200.48 L503.19,199.65 L504.59,198.83 L506.01,198.03 L507.43,197.22 L508.84,196.42 L510.24,195.60 L511.62,194.75 L512.98,193.89 L514.31,193.00 L515.63,192.09 L516.93,191.17 L518.23,190.23 L519.53,189.29 L520.82,188.33 L522.11,187.38 L523.41,186.43 L524.70,185.49 L526.01,184.56 L527.33,183.64 L528.66,182.74 L530.00,181.86 L531.36,181.01 L532.73,180.18 L534.12,179.38 L535.52,178.59 L536.94,177.83 L538.36,177.10 L539.80,176.38 L541.25,175.69 L542.72,175.02 L544.19,174.37 L545.67,173.74 L547.16,173.14 L548.67,172.55 L550.18,171.98 L551.70,171.44 L553.23,170.91 L554.76,170.41 L556.30,169.92 L557.85,169.45 L559.40,169.00 L560.96,168.57 L562.52,168.16 L564.09,167.76 L565.66,167.39 L567.24,167.03 L568.82,166.68 L570.40,166.36 L571.98,166.05 L573.56,165.75 L575.15,165.47 L576.73,165.21 L578.32,164.97 L579.90,164.73 L581.49,164.51 L583.07,164.31 L584.66,164.11 L586.25,163.93 L587.84,163.75 L589.43,163.59 L591.02,163.43 L592.62,163.27 L594.21,163.12 L595.81,162.98 L597.41,162.84 L599.02,162.70 L600.63,162.57 L602.24,162.44 L603.85,162.31 L605.47,162.19 L607.09,162.07 L608.70,161.98 L610.32,161.90 L611.94,161.83 L613.55,161.79 L615.16,161.77 L616.77,161.78 L618.38,161.82 L619.98,161.89 L621.58,162.00 L623.17,162.14 L624.76,162.32 L626.34,162.55 L627.91,162.82 L629.47,163.13 L631.03,163.48 L632.59,163.86 L634.14,164.27 L635.68,164.71 L637.23,165.17 L638.76,165.66 L640.30,166.16 L641.83,166.68 L643.36,167.22 L644.89,167.76 L646.42,168.31 L647.94,168.86 L649.47,169.42 L651.00,169.97 L652.52,170.52 L654.05,171.06 L655.58,171.59 L657.11,172.11 L658.65,172.61 L660.19,173.09 L661.73,173.55 L663.27,173.98 L664.82,174.39 L666.37,174.76 L667.93,175.10 L669.50,175.40" stroke="#cc2222" clip-path="url(#c1)" class="cv"/>
<path d="M404.00,21.50 L404.50,23.03 L405.00,24.55 L405.51,26.07 L406.02,27.60 L406.54,29.12 L407.06,30.64 L407.58,32.16 L408.11,33.67 L408.64,35.19 L409.18,36.70 L409.72,38.22 L410.26,39.73 L410.81,41.24 L411.36,42.75 L411.92,44.25 L412.48,45.76 L413.04,47.26 L413.61,48.76 L414.19,50.26 L414.77,51.76 L415.35,53.26 L415.94,54.76 L416.53,56.25 L417.13,57.74 L417.73,59.23 L418.34,60.72 L418.95,62.20 L419.56,63.69 L420.18,65.17 L420.81,66.65 L421.44,68.12 L422.07,69.60 L422.71,71.07 L423.35,72.54 L424.00,74.01 L424.66,75.48 L425.31,76.94 L425.98,78.41 L426.65,79.87 L427.32,81.32 L428.00,82.78 L428.68,84.23 L429.37,85.68 L430.06,87.13 L430.76,88.57 L431.47,90.02 L432.18,91.46 L432.89,92.89 L433.61,94.33 L434.34,95.76 L435.07,97.19 L435.80,98.62 L436.54,100.04 L437.29,101.46 L438.04,102.88 L438.80,104.30 L439.56,105.71 L440.33,107.12 L441.10,108.53 L441.88,109.93 L442.67,111.33 L443.46,112.73 L444.25,114.13 L445.05,115.52 L445.86,116.91 L446.68,118.29 L447.50,119.67 L448.32,121.05 L449.16,122.43 L450.00,123.80 L450.84,125.16 L451.70,126.52 L452.56,127.88 L453.44,129.23 L454.32,130.57 L455.21,131.91 L456.10,133.25 L457.01,134.57 L457.93,135.90 L458.86,137.21 L459.79,138.52 L460.74,139.82 L461.70,141.12 L462.67,142.40 L463.64,143.68 L464.64,144.96 L465.64,146.22 L466.67,147.45 L467.71,148.67 L468.79,149.84 L469.90,150.97 L471.04,152.06 L472.22,153.08 L473.44,154.05 L474.72,154.94 L476.04,155.76 L477.40,156.52 L478.78,157.26 L480.18,157.98 L481.59,158.70 L482.98,159.46 L484.35,160.26 L485.69,161.13 L486.99,162.08 L488.27,163.08 L489.53,164.11 L490.79,165.14 L492.07,166.16 L493.37,167.12 L494.70,168.01 L496.10,168.81 L497.55,169.48 L499.05,170.03 L500.60,170.46 L502.17,170.76 L503.76,170.93 L505.36,170.98 L506.95,170.90 L508.53,170.69 L510.07,170.35 L511.58,169.88 L513.04,169.29 L514.46,168.58 L515.83,167.77 L517.16,166.87 L518.45,165.90 L519.71,164.86 L520.94,163.78 L522.13,162.66 L523.30,161.51 L524.44,160.35 L525.55,159.16 L526.64,157.96 L527.70,156.75 L528.74,155.52 L529.76,154.27 L530.76,153.01 L531.73,151.73 L532.69,150.44 L533.62,149.14 L534.54,147.83 L535.44,146.50 L536.33,145.16 L537.20,143.82 L538.05,142.46 L538.90,141.10 L539.73,139.73 L540.54,138.35 L541.35,136.96 L542.15,135.57 L542.94,134.17 L543.72,132.77 L544.49,131.36 L545.26,129.95 L546.02,128.54 L546.78,127.12 L547.53,125.71 L548.28,124.29 L549.03,122.87 L549.77,121.45 L550.52,120.03 L551.26,118.61 L552.00,117.19 L552.73,115.76 L553.47,114.34 L554.20,112.91 L554.93,111.49 L555.66,110.06 L556.39,108.63 L557.11,107.20 L557.83,105.77 L558.55,104.33 L559.27,102.90 L559.99,101.46 L560.71,100.03 L561.42,98.59 L562.14,97.15 L562.85,95.71 L563.56,94.27 L564.27,92.82 L564.99,91.38 L565.72,89.95 L566.46,88.52 L567.22,87.10 L567.99,85.68 L568.79,84.28 L569.61,82.89 L570.46,81.52 L571.34,80.16 L572.26,78.82 L573.21,77.50 L574.21,76.21 L575.26,74.93 L576.35,73.69 L577.50,72.47 L578.70,71.28 L579.96,70.14 L581.27,69.10 L582.63,68.20 L584.04,67.50 L585.49,67.04 L586.98,66.84 L588.48,66.87 L590.00,67.10 L591.50,67.51 L592.97,68.07 L594.40,68.76 L595.78,69.55 L597.09,70.41 L598.33,71.35 L599.51,72.35 L600.62,73.41 L601.68,74.53 L602.69,75.71 L603.65,76.94 L604.56,78.21 L605.43,79.53 L606.27,80.89 L607.06,82.29 L607.83,83.72 L608.57,85.17 L609.28,86.66 L609.98,88.16 L610.65,89.68 L611.32,91.21 L611.97,92.75 L612.62,94.30 L613.27,95.85 L613.92,97.39 L614.57,98.93 L615.24,100.46 L615.91,101.98 L616.60,103.48 L617.31,104.96 L618.04,106.42 L618.80,107.85 L619.58,109.26 L620.38,110.65 L621.19,112.01 L622.03,113.36 L622.88,114.70 L623.74,116.02 L624.61,117.33 L625.50,118.63 L626.40,119.93 L627.30,121.22 L628.21,122.50 L629.13,123.78 L630.05,125.07 L630.97,126.35 L631.89,127.64 L632.81,128.94 L633.72,130.24 L634.63,131.55 L635.54,132.87 L636.45,134.19 L637.36,135.52 L638.27,136.85 L639.17,138.19 L640.08,139.53 L640.99,140.87 L641.90,142.21 L642.81,143.55 L643.73,144.89 L644.65,146.23 L645.57,147.56 L646.50,148.89 L647.44,150.22 L648.38,151.54 L649.33,152.86 L650.28,154.16 L651.25,155.46 L652.22,156.75 L653.20,158.03 L654.19,159.30 L655.19,160.56 L656.21,161.80 L657.23,163.03 L658.27,164.25 L659.33,165.45 L660.39,166.64 L661.47,167.80 L662.57,168.95 L663.68,170.08 L664.80,171.19 L665.95,172.28 L667.11,173.35 L668.29,174.39 L669.49,175.42" stroke="#1c14aa" clip-path="url(#c1)" class="cv"/>
<path d="M411.60,21.50 C412.03,26.12 413.28,39.72 414.20,49.20 C415.12,58.68 416.13,68.67 417.10,78.40 C418.07,88.13 419.22,98.17 420.00,107.60 C420.78,117.03 421.18,126.40 421.80,135.00 C422.42,143.60 423.02,152.25 423.70,159.20 C424.38,166.15 425.05,170.37 425.90,176.70 C426.75,183.03 427.95,191.85 428.80,197.20 C429.65,202.55 430.27,208.57 431.00,208.80 C431.73,209.03 432.47,204.43 433.20,198.60 C433.93,192.77 434.87,178.67 435.40,173.80 C435.93,168.93 435.92,168.18 436.40,169.40 C436.88,170.62 437.62,176.47 438.30,181.10 C438.98,185.73 439.77,195.25 440.50,197.20 C441.23,199.15 441.97,193.67 442.70,192.80 C443.43,191.93 444.18,191.77 444.90,192.00 C445.62,192.23 446.15,194.07 447.00,194.20 C447.85,194.33 449.02,194.50 450.00,192.80 C450.98,191.10 451.93,186.57 452.90,184.00 C453.87,181.43 454.95,177.15 455.80,177.40 C456.65,177.65 457.27,181.23 458.00,185.50 C458.73,189.77 459.35,197.90 460.20,203.00 C461.05,208.10 462.18,212.75 463.10,216.10 C464.02,219.45 464.92,222.33 465.70,223.10 C466.48,223.87 467.05,222.65 467.80,220.70 C468.55,218.75 469.42,213.73 470.20,211.40 C470.98,209.07 471.53,207.92 472.50,206.70 C473.47,205.48 474.63,204.65 476.00,204.10 C477.37,203.55 479.13,203.35 480.70,203.40 C482.27,203.45 484.03,204.33 485.40,204.40 C486.77,204.47 487.55,204.10 488.90,203.80 C490.25,203.50 491.75,202.90 493.50,202.60 C495.25,202.30 497.45,202.25 499.40,202.00 C501.35,201.75 503.25,201.38 505.20,201.10 C507.15,200.82 509.53,200.53 511.10,200.30 C512.67,200.07 513.43,200.23 514.60,199.70 C515.77,199.17 516.75,197.68 518.10,197.10 C519.45,196.52 521.35,196.73 522.70,196.20 C524.05,195.67 525.03,194.87 526.20,193.90 C527.37,192.93 528.23,191.48 529.70,190.40 C531.17,189.32 533.45,188.38 535.00,187.40 C536.55,186.42 537.50,185.87 539.00,184.50 C540.50,183.13 542.00,180.97 544.00,179.20 C546.00,177.43 548.47,175.17 551.00,173.90 C553.53,172.63 556.28,172.47 559.20,171.60 C562.12,170.73 565.97,169.77 568.50,168.70 C571.03,167.63 572.65,166.02 574.40,165.20 C576.15,164.38 577.25,163.97 579.00,163.80 C580.75,163.63 582.75,163.77 584.90,164.20 C587.05,164.63 589.38,165.68 591.90,166.40 C594.42,167.12 596.95,167.90 600.00,168.50 C603.05,169.10 607.23,169.50 610.20,170.00 C613.17,170.50 615.58,171.42 617.80,171.50 C620.02,171.58 621.28,170.50 623.50,170.50 C625.72,170.50 627.93,171.08 631.10,171.50 C634.27,171.92 638.70,172.53 642.50,173.00 C646.30,173.47 649.78,173.92 653.90,174.30 C658.02,174.68 664.60,175.12 667.20,175.30 C669.80,175.48 669.12,175.38 669.50,175.40" stroke="#111111" clip-path="url(#c1)" class="cv"/>
<path d="M387.00,21.50H670.00" class="ax axR"/>
<path d="M387.00,228.80H670.00" class="ax axL"/>
<path d="M387.50,21.00V229.30" class="ax axR"/>
<path d="M669.50,21.00V229.30" class="ax axR"/>
<path d="M387.50,228.80H383.30 M387.50,202.89H384.90 M387.50,176.98H383.30 M387.50,151.06H384.90 M387.50,125.15H383.30 M387.50,99.24H384.90 M387.50,73.33H383.30 M387.50,47.41H384.90 M387.50,21.50H383.30 M387.50,228.80V233.00 M415.70,228.80V231.40 M443.90,228.80V233.00 M472.10,228.80V231.40 M500.30,228.80V233.00 M528.50,228.80V231.40 M556.70,228.80V233.00 M584.90,228.80V231.40 M613.10,228.80V233.00 M641.30,228.80V231.40 M669.50,228.80V233.00" class="tk"/>
<text x="380.50" y="232.60" class="tl" text-anchor="end">-1</text>
<text x="380.50" y="180.78" class="tl" text-anchor="end">0</text>
<text x="380.50" y="128.95" class="tl" text-anchor="end">1</text>
<text x="380.50" y="77.12" class="tl" text-anchor="end">2</text>
<text x="380.50" y="25.30" class="tl" text-anchor="end">3</text>
<text x="387.50" y="246.30" class="tl" text-anchor="middle">220</text>
<text x="443.90" y="246.30" class="tl" text-anchor="middle">240</text>
<text x="500.30" y="246.30" class="tl" text-anchor="middle">260</text>
<text x="556.70" y="246.30" class="tl" text-anchor="middle">280</text>
<text x="613.10" y="246.30" class="tl" text-anchor="middle">300</text>
<text x="669.50" y="246.30" class="tl" text-anchor="middle">320</text>
<text x="537.50" y="270.80" class="xt" text-anchor="middle">Wavelength(nm)</text>
<text transform="translate(359.50,136.50) rotate(-90)" class="yt" text-anchor="middle">CD/mdeg</text>
<text x="505.10" y="15.30" class="tt"><tspan y="15.30">TBA11</tspan></text>
<text x="583.70" y="61.80" class="lb">K<tspan class="sp" dy="-6.5">+</tspan></text>
<text x="557.50" y="140.20" class="lb">No ion</text>
<text x="615.90" y="157.20" class="lb">Na<tspan class="sp" dy="-6.5">+</tspan></text>
<text x="546.80" y="203.00" class="lb">Mg<tspan class="sp" dy="-6.5">2+</tspan></text>
<text x="596.90" y="203.00" class="lb">Ca<tspan class="sp" dy="-6.5">2+</tspan></text>
<path d="M576.40,141.50L578.92,157.85" class="ar"/><path d="M579.60,162.30L577.06,157.63L580.62,157.08Z" class="ah"/>
<path d="M556.30,190.50L555.82,183.69" class="ar"/><path d="M555.50,179.20L557.65,184.06L554.06,184.31Z" class="ah"/>
<path d="M601.80,192.00L599.78,181.81" class="ar"/><path d="M598.90,177.40L601.64,181.95L598.11,182.65Z" class="ah"/>
<clipPath id="c2"><rect x="43.00" y="308.80" width="281.70" height="207.10"/></clipPath>
<path d="M42.57,381.70 L43.41,382.93 L44.27,384.18 L45.12,385.45 L45.99,386.73 L46.86,388.02 L47.74,389.32 L48.62,390.64 L49.51,391.96 L50.41,393.29 L51.32,394.63 L52.23,395.97 L53.16,397.31 L54.09,398.66 L55.04,400.01 L55.99,401.35 L56.95,402.70 L57.93,404.04 L58.91,405.38 L59.91,406.71 L60.92,408.03 L61.94,409.34 L62.98,410.65 L64.02,411.94 L65.08,413.22 L66.16,414.48 L67.25,415.73 L68.35,416.97 L69.47,418.18 L70.60,419.38 L71.75,420.55 L72.91,421.71 L74.09,422.84 L75.29,423.94 L76.51,425.02 L77.74,426.07 L78.99,427.09 L80.26,428.08 L81.54,429.04 L82.85,429.97 L84.17,430.86 L85.52,431.72 L86.88,432.54 L88.27,433.32 L89.67,434.07 L91.10,434.77 L92.55,435.43 L94.02,436.04 L95.50,436.61 L97.01,437.14 L98.52,437.61 L100.05,438.03 L101.59,438.40 L103.14,438.72 L104.69,438.98 L106.24,439.18 L107.80,439.33 L109.36,439.41 L110.91,439.43 L112.46,439.39 L114.01,439.28 L115.54,439.11 L117.06,438.86 L118.57,438.55 L120.07,438.17 L121.56,437.72 L123.04,437.22 L124.51,436.67 L125.96,436.07 L127.42,435.42 L128.86,434.73 L130.30,434.01 L131.74,433.26 L133.17,432.48 L134.60,431.69 L136.03,430.87 L137.46,430.04 L138.88,429.21 L140.31,428.37 L141.74,427.53 L143.18,426.70 L144.61,425.88 L146.06,425.07 L147.50,424.29 L148.96,423.52 L150.42,422.79 L151.89,422.09 L153.38,421.42 L154.87,420.80 L156.37,420.23 L157.88,419.69 L159.41,419.21 L160.94,418.76 L162.49,418.35 L164.04,417.97 L165.60,417.63 L167.16,417.31 L168.73,417.03 L170.31,416.77 L171.89,416.53 L173.48,416.31 L175.06,416.12 L176.65,415.93 L178.25,415.76 L179.84,415.61 L181.44,415.46 L183.03,415.32 L184.63,415.19 L186.23,415.07 L187.83,414.96 L189.44,414.86 L191.04,414.76 L192.64,414.67 L194.25,414.59 L195.86,414.50 L197.47,414.43 L199.08,414.35 L200.69,414.28 L202.30,414.21 L203.91,414.14 L205.53,414.07 L207.14,414.01 L208.76,413.94 L210.38,413.87 L212.00,413.80 L213.62,413.72 L215.24,413.66 L216.86,413.59 L218.48,413.53 L220.10,413.48 L221.72,413.44 L223.34,413.42 L224.95,413.40 L226.57,413.41 L228.18,413.43 L229.79,413.47 L231.39,413.53 L232.99,413.61 L234.59,413.72 L236.18,413.86 L237.77,414.03 L239.35,414.22 L240.93,414.44 L242.51,414.69 L244.08,414.95 L245.64,415.24 L247.21,415.56 L248.77,415.89 L250.33,416.24 L251.88,416.61 L253.44,416.99 L254.99,417.39 L256.53,417.81 L258.08,418.23 L259.62,418.67 L261.17,419.12 L262.71,419.58 L264.25,420.05 L265.79,420.53 L267.32,421.01 L268.86,421.49 L270.40,421.98 L271.93,422.47 L273.47,422.96 L275.01,423.46 L276.55,423.95 L278.08,424.44 L279.62,424.92 L281.16,425.40 L282.70,425.88 L284.25,426.34 L285.79,426.80 L287.34,427.25 L288.88,427.69 L290.43,428.12 L291.98,428.53 L293.54,428.93 L295.10,429.32 L296.66,429.69 L298.22,430.04 L299.79,430.37 L301.36,430.68 L302.93,430.97 L304.51,431.24 L306.10,431.48 L307.68,431.70 L309.27,431.90 L310.87,432.06 L312.47,432.20 L314.08,432.31 L315.69,432.38 L317.31,432.43 L318.93,432.44 L320.56,432.42 L322.20,432.36 L323.84,432.27" stroke="#d82ad8" clip-path="url(#c2)" class="cv"/>
<path d="M50.27,515.24 L50.87,513.70 L51.47,512.16 L52.08,510.64 L52.68,509.13 L53.29,507.63 L53.91,506.14 L54.52,504.66 L55.15,503.18 L55.77,501.71 L56.40,500.25 L57.03,498.80 L57.67,497.35 L58.31,495.90 L58.95,494.46 L59.60,493.02 L60.26,491.58 L60.92,490.14 L61.58,488.71 L62.25,487.27 L62.92,485.83 L63.59,484.39 L64.27,482.95 L64.96,481.51 L65.65,480.06 L66.35,478.61 L67.05,477.15 L67.76,475.69 L68.47,474.22 L69.18,472.74 L69.91,471.26 L70.64,469.76 L71.37,468.26 L72.11,466.75 L72.87,465.25 L73.64,463.75 L74.43,462.27 L75.25,460.81 L76.10,459.38 L76.98,457.98 L77.89,456.63 L78.85,455.32 L79.85,454.08 L80.90,452.93 L82.01,451.88 L83.18,450.97 L84.42,450.21 L85.74,449.63 L87.13,449.23 L88.59,448.99 L90.10,448.86 L91.66,448.82 L93.25,448.83 L94.87,448.86 L96.51,448.87 L98.15,448.87 L99.79,448.83 L101.43,448.76 L103.06,448.64 L104.67,448.47 L106.26,448.25 L107.82,447.96 L109.36,447.61 L110.85,447.17 L112.30,446.66 L113.71,446.07 L115.08,445.41 L116.43,444.69 L117.74,443.90 L119.02,443.06 L120.28,442.16 L121.51,441.22 L122.72,440.22 L123.92,439.19 L125.09,438.12 L126.25,437.01 L127.41,435.88 L128.55,434.72 L129.68,433.54 L130.82,432.34 L131.95,431.13 L133.08,429.92 L134.21,428.69 L135.35,427.47 L136.50,426.25 L137.66,425.04 L138.83,423.84 L140.02,422.65 L141.22,421.48 L142.44,420.34 L143.68,419.22 L144.94,418.13 L146.21,417.07 L147.50,416.04 L148.80,415.05 L150.13,414.09 L151.47,413.18 L152.82,412.31 L154.20,411.48 L155.59,410.71 L156.99,409.99 L158.42,409.32 L159.86,408.70 L161.31,408.15 L162.79,407.66 L164.27,407.24 L165.78,406.88 L167.30,406.59 L168.84,406.37 L170.39,406.21 L171.95,406.11 L173.52,406.06 L175.10,406.08 L176.68,406.14 L178.27,406.26 L179.87,406.42 L181.47,406.63 L183.07,406.88 L184.67,407.17 L186.27,407.49 L187.86,407.86 L189.46,408.25 L191.04,408.67 L192.62,409.12 L194.19,409.59 L195.75,410.09 L197.30,410.60 L198.83,411.13 L200.36,411.67 L201.87,412.23 L203.38,412.80 L204.87,413.38 L206.36,413.97 L207.84,414.57 L209.32,415.17 L210.80,415.78 L212.27,416.39 L213.73,417.01 L215.20,417.62 L216.67,418.24 L218.14,418.85 L219.61,419.46 L221.09,420.06 L222.57,420.65 L224.06,421.24 L225.55,421.82 L227.05,422.39 L228.56,422.95 L230.07,423.50 L231.59,424.04 L233.11,424.57 L234.63,425.08 L236.16,425.59 L237.70,426.07 L239.24,426.55 L240.79,427.00 L242.33,427.44 L243.89,427.87 L245.44,428.28 L247.01,428.67 L248.57,429.04 L250.14,429.39 L251.71,429.73 L253.28,430.04 L254.86,430.33 L256.44,430.60 L258.02,430.85 L259.60,431.08 L261.19,431.28 L262.78,431.47 L264.37,431.63 L265.96,431.78 L267.56,431.91 L269.15,432.02 L270.75,432.12 L272.35,432.20 L273.95,432.27 L275.56,432.32 L277.16,432.36 L278.77,432.39 L280.37,432.41 L281.98,432.43 L283.59,432.43 L285.20,432.42 L286.81,432.41 L288.42,432.39 L290.03,432.37 L291.64,432.34 L293.26,432.31 L294.87,432.27 L296.48,432.24 L298.09,432.20 L299.71,432.17 L301.32,432.13 L302.93,432.10 L304.55,432.07 L306.16,432.05 L307.77,432.03 L309.38,432.01 L310.99,432.00 L312.60,432.00 L314.21,432.01 L315.82,432.03 L317.42,432.05 L319.03,432.09 L320.63,432.14 L322.23,432.20 L323.84,432.28" stroke="#3ae03a" clip-path="url(#c2)" class="cv"/>
<path d="M42.55,407.90 L43.95,406.79 L45.35,405.75 L46.78,404.76 L48.21,403.84 L49.66,402.98 L51.12,402.17 L52.58,401.43 L54.06,400.74 L55.55,400.10 L57.05,399.52 L58.55,399.00 L60.07,398.52 L61.59,398.10 L63.11,397.73 L64.65,397.41 L66.18,397.14 L67.73,396.92 L69.28,396.75 L70.83,396.62 L72.38,396.54 L73.94,396.50 L75.50,396.51 L77.06,396.56 L78.62,396.65 L80.18,396.79 L81.74,396.96 L83.30,397.18 L84.86,397.43 L86.41,397.72 L87.97,398.04 L89.52,398.41 L91.06,398.81 L92.60,399.24 L94.14,399.70 L95.67,400.20 L97.20,400.73 L98.71,401.29 L100.23,401.88 L101.73,402.49 L103.22,403.14 L104.71,403.81 L106.18,404.51 L107.65,405.23 L109.10,405.98 L110.55,406.75 L111.98,407.54 L113.39,408.35 L114.80,409.19 L116.19,410.04 L117.57,410.92 L118.93,411.81 L120.28,412.72 L121.61,413.64 L122.92,414.58 L124.22,415.53 L125.50,416.50 L126.76,417.48 L128.00,418.47 L129.23,419.48 L130.43,420.51 L131.63,421.55 L132.80,422.61 L133.97,423.69 L135.12,424.79 L136.25,425.91 L137.37,427.05 L138.48,428.22 L139.58,429.42 L140.67,430.63 L141.75,431.87 L142.82,433.12 L143.90,434.38 L144.98,435.63 L146.07,436.88 L147.17,438.12 L148.29,439.33 L149.43,440.52 L150.60,441.67 L151.79,442.79 L153.01,443.86 L154.27,444.88 L155.57,445.84 L156.91,446.74 L158.29,447.57 L159.70,448.33 L161.13,449.03 L162.59,449.66 L164.07,450.21 L165.57,450.69 L167.08,451.09 L168.60,451.41 L170.13,451.66 L171.66,451.82 L173.19,451.89 L174.71,451.88 L176.22,451.78 L177.72,451.59 L179.21,451.31 L180.67,450.93 L182.11,450.46 L183.53,449.91 L184.93,449.27 L186.31,448.55 L187.67,447.76 L189.01,446.90 L190.33,445.98 L191.62,444.99 L192.90,443.96 L194.16,442.87 L195.39,441.73 L196.61,440.56 L197.81,439.35 L198.99,438.10 L200.15,436.83 L201.29,435.54 L202.41,434.23 L203.51,432.91 L204.60,431.57 L205.66,430.24 L206.71,428.90 L207.74,427.57 L208.75,426.25 L209.75,424.95 L210.72,423.66 L211.68,422.39 L212.63,421.14 L213.57,419.91 L214.49,418.68 L215.41,417.46 L216.33,416.24 L217.25,415.03 L218.16,413.81 L219.08,412.59 L220.01,411.37 L220.95,410.13 L221.90,408.88 L222.86,407.61 L223.83,406.33 L224.83,405.03 L225.84,403.73 L226.87,402.42 L227.92,401.12 L229.00,399.84 L230.09,398.57 L231.21,397.32 L232.35,396.10 L233.52,394.92 L234.72,393.78 L235.94,392.69 L237.19,391.65 L238.47,390.66 L239.79,389.74 L241.13,388.90 L242.51,388.13 L243.92,387.44 L245.36,386.83 L246.84,386.33 L248.35,385.91 L249.89,385.58 L251.44,385.35 L253.01,385.20 L254.59,385.15 L256.17,385.18 L257.75,385.29 L259.32,385.50 L260.88,385.79 L262.42,386.16 L263.94,386.62 L265.43,387.16 L266.90,387.77 L268.34,388.46 L269.75,389.21 L271.14,390.02 L272.52,390.87 L273.88,391.77 L275.23,392.70 L276.57,393.66 L277.90,394.64 L279.22,395.63 L280.54,396.62 L281.86,397.61 L283.18,398.60 L284.51,399.57 L285.84,400.52 L287.17,401.46 L288.51,402.39 L289.84,403.31 L291.18,404.23 L292.51,405.14 L293.84,406.04 L295.17,406.94 L296.50,407.84 L297.82,408.75 L299.13,409.65 L300.44,410.56 L301.74,411.48 L303.04,412.40 L304.32,413.33 L305.59,414.28 L306.86,415.23 L308.11,416.20 L309.34,417.19 L310.57,418.20 L311.78,419.22 L312.97,420.27 L314.14,421.34 L315.30,422.43 L316.44,423.55 L317.57,424.70 L318.67,425.88 L319.75,427.09 L320.81,428.33 L321.84,429.61 L322.85,430.93 L323.84,432.28" stroke="#cc2222" clip-path="url(#c2)" class="cv"/>
<path d="M42.55,350.09 L43.01,351.61 L43.46,353.12 L43.90,354.64 L44.33,356.17 L44.76,357.70 L45.18,359.23 L45.60,360.77 L46.01,362.32 L46.42,363.86 L46.82,365.41 L47.22,366.97 L47.62,368.52 L48.01,370.08 L48.40,371.65 L48.79,373.21 L49.18,374.78 L49.57,376.35 L49.95,377.92 L50.34,379.49 L50.72,381.06 L51.10,382.64 L51.49,384.21 L51.87,385.79 L52.26,387.36 L52.65,388.94 L53.03,390.52 L53.43,392.09 L53.82,393.67 L54.22,395.24 L54.62,396.82 L55.02,398.39 L55.43,399.96 L55.85,401.53 L56.27,403.10 L56.69,404.67 L57.12,406.23 L57.56,407.79 L58.00,409.35 L58.45,410.91 L58.90,412.46 L59.37,414.01 L59.84,415.55 L60.32,417.10 L60.81,418.63 L61.31,420.17 L61.81,421.70 L62.33,423.22 L62.86,424.74 L63.40,426.26 L63.95,427.76 L64.51,429.27 L65.08,430.77 L65.66,432.26 L66.26,433.74 L66.87,435.22 L67.49,436.70 L68.13,438.16 L68.78,439.62 L69.45,441.07 L70.13,442.51 L70.82,443.95 L71.53,445.38 L72.26,446.80 L73.00,448.21 L73.76,449.61 L74.54,451.01 L75.33,452.39 L76.14,453.77 L76.97,455.13 L77.82,456.49 L78.69,457.83 L79.57,459.17 L80.48,460.49 L81.41,461.81 L82.35,463.11 L83.32,464.40 L84.32,465.66 L85.36,466.88 L86.43,468.06 L87.54,469.17 L88.71,470.22 L89.94,471.18 L91.22,472.05 L92.57,472.82 L93.99,473.48 L95.49,474.01 L97.08,474.40 L98.75,474.65 L100.49,474.75 L102.22,474.67 L103.86,474.41 L105.37,473.97 L106.76,473.36 L108.04,472.61 L109.23,471.72 L110.32,470.71 L111.33,469.60 L112.26,468.39 L113.13,467.10 L113.94,465.75 L114.70,464.35 L115.41,462.91 L116.09,461.45 L116.74,459.98 L117.37,458.48 L117.96,456.97 L118.53,455.45 L119.09,453.91 L119.62,452.37 L120.14,450.82 L120.64,449.26 L121.13,447.70 L121.62,446.14 L122.10,444.58 L122.57,443.02 L123.04,441.46 L123.51,439.91 L123.97,438.35 L124.42,436.79 L124.88,435.24 L125.32,433.68 L125.77,432.13 L126.21,430.58 L126.65,429.03 L127.08,427.47 L127.52,425.92 L127.95,424.37 L128.38,422.83 L128.80,421.28 L129.23,419.73 L129.65,418.18 L130.07,416.64 L130.49,415.09 L130.91,413.55 L131.33,412.00 L131.75,410.46 L132.17,408.92 L132.59,407.37 L133.01,405.83 L133.43,404.29 L133.85,402.75 L134.27,401.21 L134.69,399.67 L135.12,398.13 L135.55,396.60 L135.97,395.06 L136.40,393.52 L136.84,391.99 L137.27,390.45 L137.71,388.92 L138.15,387.38 L138.59,385.85 L139.04,384.31 L139.49,382.78 L139.95,381.25 L140.41,379.71 L140.87,378.18 L141.34,376.65 L141.81,375.12 L142.29,373.59 L142.78,372.06 L143.26,370.53 L143.76,369.00 L144.26,367.47 L144.77,365.94 L145.28,364.41 L145.80,362.88 L146.33,361.36 L146.86,359.83 L147.41,358.30 L147.96,356.78 L148.51,355.25 L149.08,353.72 L149.65,352.20 L150.23,350.67 L150.82,349.15 L151.42,347.62 L152.03,346.09 L152.65,344.57 L153.28,343.05 L153.92,341.52 L154.56,340.00 L155.22,338.47 L155.89,336.95 L156.57,335.43 L157.28,333.93 L158.01,332.47 L158.79,331.07 L159.61,329.73 L160.49,328.47 L161.43,327.32 L162.45,326.28 L163.56,325.38 L164.75,324.62 L166.04,324.03 L167.45,323.61 L168.97,323.40 L170.59,323.38 L172.26,323.57 L173.92,323.95 L175.52,324.53 L177.00,325.29 L178.33,326.22 L179.53,327.31 L180.61,328.52 L181.60,329.83 L182.51,331.21 L183.37,332.63 L184.20,334.07 L185.02,335.51 L185.83,336.93 L186.64,338.34 L187.44,339.74 L188.24,341.13 L189.03,342.52 L189.83,343.90 L190.62,345.28 L191.41,346.65 L192.21,348.02 L193.00,349.39 L193.79,350.75 L194.58,352.12 L195.37,353.48 L196.16,354.85 L196.95,356.22 L197.74,357.59 L198.54,358.97 L199.33,360.36 L200.13,361.75 L200.93,363.14 L201.74,364.55 L202.55,365.95 L203.36,367.36 L204.18,368.77 L205.01,370.17 L205.84,371.58 L206.69,372.98 L207.54,374.37 L208.40,375.77 L209.28,377.15 L210.16,378.52 L211.06,379.88 L211.97,381.24 L212.90,382.57 L213.84,383.90 L214.80,385.21 L215.77,386.50 L216.77,387.77 L217.78,389.02 L218.81,390.25 L219.86,391.46 L220.93,392.64 L222.02,393.80 L223.14,394.93 L224.28,396.03 L225.44,397.11 L226.63,398.15 L227.84,399.16 L229.08,400.14 L230.35,401.09 L231.63,402.01 L232.94,402.90 L234.27,403.76 L235.62,404.60 L236.99,405.42 L238.37,406.21 L239.77,406.98 L241.19,407.73 L242.62,408.47 L244.06,409.18 L245.52,409.88 L246.98,410.57 L248.46,411.24 L249.94,411.90 L251.43,412.55 L252.93,413.18 L254.43,413.81 L255.93,414.44 L257.44,415.05 L258.95,415.67 L260.46,416.27 L261.97,416.88 L263.48,417.49 L264.98,418.09 L266.49,418.69 L267.99,419.29 L269.49,419.89 L270.99,420.48 L272.49,421.07 L274.00,421.65 L275.50,422.22 L277.00,422.79 L278.50,423.35 L280.01,423.90 L281.51,424.44 L283.02,424.96 L284.53,425.48 L286.04,425.98 L287.56,426.48 L289.08,426.95 L290.60,427.41 L292.12,427.86 L293.65,428.29 L295.19,428.70 L296.72,429.10 L298.27,429.47 L299.81,429.83 L301.37,430.17 L302.93,430.48 L304.49,430.77 L306.06,431.04 L307.64,431.29 L309.22,431.51 L310.81,431.71 L312.41,431.88 L314.02,432.02 L315.63,432.14 L317.26,432.23 L318.89,432.28 L320.53,432.31 L322.18,432.31 L323.84,432.27" stroke="#1c14aa" clip-path="url(#c2)" class="cv"/>
<path d="M42.57,412.51 L43.36,411.13 L44.22,409.78 L45.14,408.46 L46.12,407.17 L47.15,405.91 L48.24,404.68 L49.38,403.49 L50.57,402.34 L51.80,401.22 L53.07,400.15 L54.38,399.13 L55.73,398.15 L57.11,397.22 L58.52,396.34 L59.95,395.52 L61.41,394.75 L62.89,394.04 L64.39,393.39 L65.91,392.80 L67.43,392.27 L68.97,391.82 L70.51,391.43 L72.06,391.11 L73.61,390.87 L75.15,390.70 L76.69,390.61 L78.22,390.59 L79.74,390.66 L81.25,390.82 L82.74,391.06 L84.21,391.39 L85.66,391.81 L87.08,392.32 L88.49,392.91 L89.87,393.57 L91.24,394.30 L92.59,395.10 L93.93,395.95 L95.25,396.85 L96.56,397.80 L97.86,398.79 L99.15,399.81 L100.43,400.86 L101.71,401.93 L102.98,403.01 L104.25,404.11 L105.52,405.20 L106.79,406.30 L108.06,407.39 L109.33,408.46 L110.61,409.51 L111.89,410.54 L113.17,411.55 L114.46,412.54 L115.76,413.51 L117.05,414.46 L118.35,415.39 L119.66,416.31 L120.97,417.22 L122.28,418.12 L123.59,419.00 L124.90,419.89 L126.22,420.76 L127.54,421.63 L128.85,422.50 L130.17,423.37 L131.49,424.24 L132.81,425.11 L134.13,425.99 L135.44,426.87 L136.76,427.76 L138.08,428.66 L139.39,429.57 L140.70,430.50 L142.01,431.43 L143.31,432.39 L144.62,433.36 L145.92,434.35 L147.21,435.37 L148.50,436.40 L149.79,437.45 L151.09,438.51 L152.38,439.56 L153.68,440.59 L154.99,441.61 L156.31,442.59 L157.65,443.52 L159.00,444.41 L160.37,445.23 L161.77,445.99 L163.19,446.66 L164.63,447.24 L166.10,447.74 L167.58,448.15 L169.08,448.46 L170.59,448.67 L172.11,448.79 L173.64,448.82 L175.16,448.74 L176.69,448.56 L178.21,448.28 L179.73,447.92 L181.24,447.47 L182.74,446.94 L184.23,446.34 L185.71,445.66 L187.17,444.93 L188.63,444.13 L190.06,443.28 L191.47,442.38 L192.87,441.44 L194.24,440.45 L195.59,439.44 L196.91,438.40 L198.21,437.33 L199.48,436.25 L200.71,435.15 L201.92,434.04 L203.09,432.93 L204.24,431.81 L205.36,430.68 L206.46,429.54 L207.54,428.40 L208.60,427.24 L209.65,426.07 L210.68,424.90 L211.70,423.71 L212.72,422.51 L213.74,421.30 L214.75,420.08 L215.76,418.85 L216.78,417.60 L217.80,416.34 L218.83,415.07 L219.86,413.79 L220.91,412.50 L221.98,411.22 L223.05,409.94 L224.14,408.67 L225.24,407.41 L226.36,406.17 L227.50,404.96 L228.65,403.77 L229.83,402.62 L231.03,401.50 L232.25,400.42 L233.49,399.38 L234.75,398.40 L236.05,397.46 L237.37,396.59 L238.71,395.78 L240.09,395.04 L241.50,394.37 L242.94,393.77 L244.41,393.25 L245.90,392.81 L247.42,392.45 L248.95,392.16 L250.50,391.96 L252.06,391.83 L253.63,391.78 L255.20,391.80 L256.77,391.91 L258.34,392.09 L259.89,392.35 L261.44,392.69 L262.97,393.10 L264.48,393.59 L265.98,394.14 L267.46,394.76 L268.93,395.43 L270.39,396.14 L271.84,396.90 L273.28,397.69 L274.72,398.52 L276.14,399.36 L277.57,400.22 L278.98,401.09 L280.40,401.96 L281.81,402.84 L283.23,403.70 L284.64,404.55 L286.05,405.38 L287.47,406.21 L288.88,407.02 L290.29,407.83 L291.69,408.64 L293.09,409.44 L294.49,410.24 L295.89,411.03 L297.27,411.84 L298.65,412.64 L300.03,413.45 L301.39,414.27 L302.75,415.09 L304.10,415.93 L305.44,416.78 L306.77,417.64 L308.08,418.53 L309.39,419.42 L310.68,420.34 L311.96,421.28 L313.22,422.25 L314.47,423.24 L315.70,424.25 L316.92,425.30 L318.12,426.37 L319.30,427.48 L320.46,428.63 L321.61,429.80 L322.73,431.02 L323.84,432.28" stroke="#111111" clip-path="url(#c2)" class="cv"/>
<path d="M42.50,308.80H325.20" class="ax axL"/>
<path d="M42.50,515.90H325.20" class="ax axL"/>
<path d="M43.00,308.30V516.40" class="ax axL"/>
<path d="M324.70,308.30V516.40" class="ax axL"/>
<path d="M43.00,515.90H38.80 M43.00,495.19H40.40 M43.00,474.48H38.80 M43.00,453.77H40.40 M43.00,433.06H38.80 M43.00,412.35H40.40 M43.00,391.64H38.80 M43.00,370.93H40.40 M43.00,350.22H38.80 M43.00,329.51H40.40 M43.00,308.80H38.80 M43.00,515.90V520.10 M71.17,515.90V518.50 M99.34,515.90V520.10 M127.51,515.90V518.50 M155.68,515.90V520.10 M183.85,515.90V518.50 M212.02,515.90V520.10 M240.19,515.90V518.50 M268.36,515.90V520.10 M296.53,515.90V518.50 M324.70,515.90V520.10" class="tk"/>
<text x="36.00" y="519.70" class="tl" text-anchor="end">-10</text>
<text x="36.00" y="478.28" class="tl" text-anchor="end">-5</text>
<text x="36.00" y="436.86" class="tl" text-anchor="end">0</text>
<text x="36.00" y="395.44" class="tl" text-anchor="end">5</text>
<text x="36.00" y="354.02" class="tl" text-anchor="end">10</text>
<text x="36.00" y="312.60" class="tl" text-anchor="end">15</text>
<text x="43.00" y="533.40" class="tl" text-anchor="middle">220</text>
<text x="99.34" y="533.40" class="tl" text-anchor="middle">240</text>
<text x="155.68" y="533.40" class="tl" text-anchor="middle">260</text>
<text x="212.02" y="533.40" class="tl" text-anchor="middle">280</text>
<text x="268.36" y="533.40" class="tl" text-anchor="middle">300</text>
<text x="324.70" y="533.40" class="tl" text-anchor="middle">320</text>
<text x="192.85" y="557.90" class="xt" text-anchor="middle">Wavelength(nm)</text>
<text transform="translate(15.00,423.80) rotate(-90)" class="yt" text-anchor="middle">CD/mdeg</text>
<text x="159.50" y="302.80" class="tt"><tspan y="302.80">Hum21</tspan></text>
<text x="140.40" y="337.80" class="lb">K<tspan class="sp" dy="-6.5">+</tspan></text>
<text x="167.20" y="398.50" class="lb">Ca<tspan class="sp" dy="-6.5">2+</tspan></text>
<text x="232.70" y="383.50" class="lb">Na<tspan class="sp" dy="-6.5">+</tspan></text>
<text x="277.60" y="371.90" class="lb">No ion</text>
<text x="212.90" y="454.00" class="lb">Mg<tspan class="sp" dy="-6.5">2+</tspan></text>
<path d="M287.90,374.50L265.49,388.78" class="ar"/><path d="M261.70,391.20L264.95,386.99L266.88,390.03Z" class="ah"/>
<path d="M218.00,443.30L198.71,419.12" class="ar"/><path d="M195.90,415.60L200.43,418.39L197.61,420.63Z" class="ah"/>
<clipPath id="c3"><rect x="389.50" y="308.50" width="282.00" height="207.00"/></clipPath>
<path d="M389.51,370.00 L389.80,371.58 L390.10,373.16 L390.41,374.74 L390.73,376.32 L391.06,377.89 L391.39,379.46 L391.73,381.04 L392.08,382.61 L392.43,384.17 L392.79,385.74 L393.16,387.31 L393.53,388.87 L393.91,390.43 L394.29,392.00 L394.68,393.56 L395.08,395.12 L395.48,396.67 L395.88,398.23 L396.29,399.79 L396.71,401.34 L397.12,402.89 L397.55,404.45 L397.97,406.00 L398.40,407.55 L398.83,409.10 L399.27,410.65 L399.71,412.19 L400.15,413.74 L400.59,415.29 L401.04,416.83 L401.49,418.38 L401.94,419.92 L402.39,421.46 L402.84,423.01 L403.30,424.55 L403.75,426.09 L404.21,427.63 L404.67,429.17 L405.12,430.71 L405.58,432.25 L406.04,433.79 L406.50,435.33 L406.95,436.87 L407.41,438.40 L407.87,439.94 L408.32,441.48 L408.78,443.02 L409.23,444.55 L409.68,446.09 L410.13,447.63 L410.58,449.16 L411.03,450.70 L411.48,452.24 L411.93,453.77 L412.40,455.30 L412.87,456.83 L413.35,458.36 L413.84,459.88 L414.34,461.40 L414.86,462.92 L415.40,464.43 L415.95,465.94 L416.52,467.44 L417.12,468.94 L417.74,470.43 L418.38,471.91 L419.06,473.39 L419.76,474.86 L420.49,476.33 L421.25,477.78 L422.05,479.23 L422.88,480.67 L423.75,482.10 L424.66,483.52 L425.60,484.92 L426.59,486.29 L427.62,487.61 L428.68,488.89 L429.79,490.10 L430.94,491.24 L432.13,492.30 L433.37,493.27 L434.64,494.13 L435.96,494.88 L437.32,495.51 L438.72,496.01 L440.17,496.36 L441.66,496.57 L443.19,496.63 L444.73,496.55 L446.29,496.35 L447.84,496.02 L449.39,495.58 L450.92,495.03 L452.41,494.39 L453.86,493.65 L455.26,492.82 L456.60,491.92 L457.87,490.95 L459.05,489.92 L460.15,488.83 L461.18,487.68 L462.14,486.47 L463.04,485.22 L463.87,483.91 L464.64,482.56 L465.35,481.17 L466.01,479.74 L466.63,478.27 L467.19,476.77 L467.72,475.24 L468.21,473.68 L468.67,472.10 L469.09,470.49 L469.49,468.87 L469.87,467.23 L470.23,465.58 L470.57,463.92 L470.90,462.25 L471.22,460.58 L471.54,458.90 L471.86,457.23 L472.18,455.57 L472.50,453.91 L472.84,452.26 L473.19,450.63 L473.56,449.01 L473.95,447.42 L474.36,445.84 L474.81,444.30 L475.28,442.78 L475.79,441.29 L476.33,439.82 L476.90,438.38 L477.48,436.95 L478.09,435.54 L478.71,434.14 L479.34,432.75 L479.98,431.35 L480.62,429.96 L481.27,428.57 L481.91,427.17 L482.54,425.76 L483.17,424.33 L483.78,422.88 L484.38,421.42 L484.95,419.93 L485.51,418.41 L486.05,416.87 L486.57,415.31 L487.08,413.73 L487.58,412.14 L488.08,410.53 L488.58,408.92 L489.07,407.30 L489.57,405.69 L490.08,404.07 L490.60,402.45 L491.14,400.84 L491.69,399.25 L492.26,397.66 L492.85,396.09 L493.47,394.54 L494.12,393.01 L494.81,391.50 L495.53,390.02 L496.29,388.57 L497.09,387.15 L497.93,385.77 L498.83,384.43 L499.77,383.13 L500.78,381.88 L501.83,380.68 L502.94,379.54 L504.11,378.48 L505.31,377.52 L506.57,376.68 L507.86,375.95 L509.19,375.37 L510.55,374.95 L511.94,374.70 L513.36,374.61 L514.79,374.69 L516.23,374.91 L517.67,375.27 L519.10,375.76 L520.52,376.36 L521.91,377.07 L523.28,377.87 L524.60,378.76 L525.88,379.72 L527.11,380.75 L528.28,381.84 L529.40,382.97 L530.48,384.16 L531.51,385.39 L532.50,386.66 L533.46,387.96 L534.40,389.29 L535.30,390.65 L536.19,392.03 L537.06,393.43 L537.92,394.84 L538.78,396.26 L539.62,397.69 L540.47,399.11 L541.33,400.53 L542.20,401.94 L543.08,403.33 L543.97,404.71 L544.89,406.07 L545.83,407.40 L546.80,408.71 L547.78,410.00 L548.79,411.26 L549.82,412.50 L550.87,413.72 L551.94,414.91 L553.03,416.08 L554.15,417.22 L555.28,418.34 L556.43,419.43 L557.61,420.50 L558.80,421.54 L560.02,422.55 L561.25,423.54 L562.50,424.49 L563.77,425.43 L565.07,426.33 L566.38,427.21 L567.70,428.05 L569.05,428.87 L570.42,429.66 L571.80,430.43 L573.20,431.16 L574.62,431.86 L576.06,432.53 L577.51,433.17 L578.98,433.79 L580.47,434.38 L581.97,434.94 L583.47,435.49 L584.99,436.03 L586.52,436.55 L588.05,437.06 L589.58,437.56 L591.12,438.06 L592.67,438.56 L594.21,439.06 L595.75,439.56 L597.28,440.07 L598.82,440.59 L600.34,441.13 L601.86,441.68 L603.37,442.25 L604.87,442.84 L606.36,443.44 L607.84,444.06 L609.32,444.69 L610.79,445.33 L612.26,445.98 L613.72,446.63 L615.18,447.28 L616.65,447.93 L618.11,448.58 L619.57,449.22 L621.04,449.85 L622.52,450.46 L624.00,451.06 L625.48,451.65 L626.98,452.21 L628.48,452.75 L630.00,453.26 L631.52,453.75 L633.05,454.21 L634.60,454.65 L636.15,455.06 L637.71,455.44 L639.28,455.81 L640.85,456.15 L642.43,456.46 L644.02,456.75 L645.61,457.02 L647.21,457.27 L648.81,457.50 L650.41,457.70 L652.02,457.88 L653.62,458.05 L655.23,458.19 L656.85,458.31 L658.46,458.42 L660.07,458.50 L661.68,458.57 L663.29,458.61 L664.90,458.64 L666.50,458.66 L668.11,458.65 L669.70,458.63 L671.30,458.59" stroke="#d82ad8" clip-path="url(#c3)" class="cv"/>
<path d="M396.29,305.00 L396.70,306.56 L397.11,308.12 L397.51,309.68 L397.91,311.24 L398.29,312.81 L398.67,314.37 L399.05,315.94 L399.42,317.51 L399.78,319.07 L400.14,320.64 L400.49,322.21 L400.84,323.79 L401.18,325.36 L401.51,326.93 L401.85,328.51 L402.17,330.08 L402.49,331.66 L402.81,333.24 L403.12,334.81 L403.43,336.39 L403.74,337.97 L404.04,339.55 L404.33,341.13 L404.63,342.72 L404.92,344.30 L405.20,345.88 L405.49,347.47 L405.77,349.05 L406.04,350.63 L406.32,352.22 L406.59,353.81 L406.86,355.39 L407.12,356.98 L407.39,358.57 L407.65,360.15 L407.91,361.74 L408.17,363.33 L408.43,364.92 L408.68,366.51 L408.94,368.10 L409.19,369.68 L409.44,371.27 L409.69,372.86 L409.94,374.45 L410.19,376.04 L410.44,377.63 L410.69,379.22 L410.94,380.81 L411.19,382.40 L411.44,383.99 L411.69,385.58 L411.94,387.17 L412.18,388.76 L412.44,390.34 L412.69,391.93 L412.94,393.52 L413.19,395.11 L413.45,396.70 L413.70,398.28 L413.96,399.87 L414.22,401.46 L414.48,403.04 L414.75,404.63 L415.01,406.21 L415.28,407.80 L415.55,409.38 L415.82,410.96 L416.10,412.55 L416.37,414.13 L416.65,415.71 L416.94,417.29 L417.22,418.87 L417.51,420.45 L417.80,422.03 L418.10,423.61 L418.40,425.19 L418.70,426.76 L419.01,428.34 L419.32,429.92 L419.63,431.49 L419.95,433.07 L420.27,434.64 L420.59,436.22 L420.92,437.79 L421.26,439.36 L421.59,440.93 L421.94,442.50 L422.28,444.07 L422.63,445.64 L422.99,447.21 L423.35,448.78 L423.72,450.34 L424.09,451.91 L424.47,453.47 L424.85,455.04 L425.25,456.60 L425.65,458.16 L426.07,459.71 L426.51,461.26 L426.95,462.81 L427.42,464.35 L427.90,465.89 L428.40,467.42 L428.92,468.95 L429.47,470.47 L430.04,471.98 L430.63,473.49 L431.25,474.99 L431.90,476.48 L432.58,477.96 L433.29,479.43 L434.03,480.89 L434.81,482.35 L435.62,483.79 L436.47,485.22 L437.35,486.64 L438.28,488.04 L439.24,489.43 L440.26,490.76 L441.32,491.99 L442.45,493.11 L443.64,494.07 L444.90,494.84 L446.23,495.39 L447.64,495.68 L449.11,495.71 L450.59,495.49 L452.00,495.08 L453.32,494.50 L454.53,493.76 L455.65,492.88 L456.68,491.86 L457.64,490.72 L458.52,489.47 L459.33,488.13 L460.08,486.69 L460.79,485.19 L461.44,483.62 L462.06,482.01 L462.64,480.36 L463.20,478.68 L463.75,476.99 L464.27,475.29 L464.80,473.61 L465.32,471.94 L465.84,470.29 L466.36,468.65 L466.88,467.03 L467.39,465.42 L467.91,463.82 L468.43,462.23 L468.94,460.66 L469.45,459.10 L469.96,457.55 L470.48,456.01 L470.99,454.48 L471.50,452.96 L472.01,451.45 L472.52,449.94 L473.03,448.44 L473.54,446.95 L474.05,445.47 L474.56,443.99 L475.07,442.52 L475.58,441.05 L476.09,439.59 L476.60,438.13 L477.12,436.67 L477.63,435.21 L478.14,433.76 L478.66,432.31 L479.18,430.85 L479.69,429.40 L480.21,427.95 L480.73,426.50 L481.25,425.04 L481.78,423.58 L482.30,422.12 L482.83,420.66 L483.36,419.19 L483.89,417.72 L484.42,416.25 L484.96,414.77 L485.50,413.28 L486.04,411.78 L486.58,410.28 L487.12,408.77 L487.67,407.25 L488.22,405.73 L488.78,404.19 L489.34,402.65 L489.90,401.10 L490.47,399.55 L491.05,398.00 L491.65,396.45 L492.25,394.89 L492.86,393.35 L493.49,391.80 L494.14,390.27 L494.80,388.74 L495.48,387.23 L496.18,385.72 L496.90,384.23 L497.64,382.75 L498.41,381.29 L499.20,379.85 L500.02,378.43 L500.88,377.06 L501.80,375.76 L502.81,374.57 L503.91,373.50 L505.14,372.60 L506.47,371.86 L507.90,371.29 L509.40,370.87 L510.95,370.61 L512.53,370.51 L514.13,370.55 L515.72,370.73 L517.29,371.06 L518.80,371.52 L520.25,372.12 L521.63,372.84 L522.93,373.68 L524.16,374.63 L525.33,375.67 L526.44,376.81 L527.50,378.02 L528.52,379.30 L529.49,380.63 L530.42,382.02 L531.32,383.44 L532.20,384.90 L533.06,386.37 L533.90,387.85 L534.73,389.33 L535.55,390.80 L536.37,392.26 L537.19,393.69 L538.02,395.11 L538.84,396.51 L539.66,397.89 L540.49,399.26 L541.31,400.62 L542.13,401.97 L542.96,403.31 L543.78,404.64 L544.60,405.97 L545.43,407.28 L546.26,408.60 L547.08,409.90 L547.91,411.21 L548.74,412.52 L549.56,413.82 L550.39,415.13 L551.22,416.44 L552.05,417.76 L552.89,419.08 L553.72,420.40 L554.56,421.74 L555.39,423.08 L556.23,424.44 L557.07,425.80 L557.91,427.18 L558.75,428.58 L559.59,429.98 L560.44,431.40 L561.29,432.83 L562.14,434.27 L563.00,435.71 L563.87,437.16 L564.75,438.60 L565.64,440.04 L566.54,441.47 L567.45,442.89 L568.37,444.31 L569.31,445.70 L570.27,447.08 L571.24,448.44 L572.23,449.78 L573.24,451.09 L574.27,452.37 L575.33,453.63 L576.40,454.84 L577.50,456.03 L578.63,457.17 L579.78,458.27 L580.96,459.33 L582.17,460.34 L583.41,461.30 L584.69,462.20 L585.99,463.06 L587.32,463.87 L588.67,464.62 L590.05,465.33 L591.46,465.98 L592.89,466.59 L594.34,467.15 L595.81,467.66 L597.31,468.13 L598.82,468.55 L600.34,468.93 L601.88,469.26 L603.44,469.54 L605.00,469.79 L606.58,469.99 L608.17,470.15 L609.77,470.26 L611.37,470.34 L612.98,470.37 L614.60,470.37 L616.22,470.33 L617.83,470.25 L619.46,470.13 L621.07,469.97 L622.69,469.78 L624.31,469.55 L625.92,469.29 L627.52,468.99 L629.12,468.66 L630.70,468.30 L632.28,467.90 L633.85,467.47 L635.40,467.01 L636.95,466.53 L638.49,466.03 L640.02,465.52 L641.55,464.99 L643.07,464.46 L644.59,463.92 L646.11,463.39 L647.63,462.86 L649.15,462.34 L650.67,461.84 L652.20,461.36 L653.73,460.90 L655.27,460.47 L656.82,460.07 L658.37,459.70 L659.94,459.38 L661.52,459.10 L663.11,458.87 L664.71,458.70 L666.34,458.58 L667.97,458.53 L669.63,458.54 L671.31,458.62" stroke="#3ae03a" clip-path="url(#c3)" class="cv"/>
<path d="M389.50,309.50 L389.89,311.05 L390.29,312.61 L390.68,314.16 L391.07,315.72 L391.47,317.27 L391.85,318.83 L392.24,320.39 L392.63,321.95 L393.01,323.51 L393.40,325.07 L393.78,326.63 L394.16,328.19 L394.54,329.75 L394.92,331.31 L395.29,332.88 L395.67,334.44 L396.04,336.01 L396.42,337.57 L396.79,339.14 L397.16,340.70 L397.53,342.27 L397.90,343.84 L398.27,345.40 L398.63,346.97 L399.00,348.54 L399.36,350.11 L399.73,351.68 L400.09,353.25 L400.46,354.81 L400.82,356.38 L401.18,357.95 L401.54,359.52 L401.90,361.09 L402.26,362.66 L402.62,364.23 L402.98,365.80 L403.33,367.37 L403.69,368.94 L404.05,370.51 L404.40,372.08 L404.76,373.64 L405.12,375.21 L405.47,376.78 L405.83,378.35 L406.18,379.92 L406.54,381.48 L406.89,383.05 L407.24,384.62 L407.60,386.18 L407.95,387.75 L408.31,389.32 L408.66,390.88 L409.01,392.44 L409.37,394.01 L409.72,395.57 L410.07,397.13 L410.43,398.70 L410.78,400.26 L411.14,401.82 L411.49,403.38 L411.85,404.94 L412.20,406.50 L412.56,408.05 L412.92,409.61 L413.28,411.16 L413.65,412.72 L414.03,414.27 L414.41,415.82 L414.80,417.37 L415.20,418.92 L415.61,420.47 L416.03,422.01 L416.47,423.55 L416.92,425.09 L417.39,426.63 L417.87,428.16 L418.37,429.70 L418.89,431.23 L419.42,432.75 L419.98,434.28 L420.57,435.80 L421.17,437.32 L421.81,438.82 L422.47,440.32 L423.17,441.80 L423.91,443.26 L424.69,444.69 L425.51,446.10 L426.38,447.48 L427.29,448.82 L428.27,450.12 L429.29,451.38 L430.38,452.60 L431.54,453.75 L432.75,454.80 L434.04,455.72 L435.39,456.51 L436.81,457.13 L438.29,457.61 L439.79,457.94 L441.33,458.12 L442.88,458.15 L444.43,458.05 L445.97,457.81 L447.49,457.43 L448.98,456.92 L450.43,456.29 L451.84,455.55 L453.23,454.72 L454.59,453.82 L455.94,452.86 L457.27,451.85 L458.59,450.82 L459.91,449.78 L461.23,448.74 L462.55,447.72 L463.88,446.73 L465.22,445.80 L466.58,444.93 L467.95,444.12 L469.34,443.37 L470.75,442.68 L472.17,442.05 L473.61,441.48 L475.07,440.97 L476.55,440.52 L478.04,440.13 L479.55,439.80 L481.09,439.52 L482.64,439.30 L484.20,439.14 L485.79,439.03 L487.39,438.97 L489.01,438.95 L490.64,438.96 L492.27,439.00 L493.91,439.05 L495.55,439.12 L497.20,439.19 L498.84,439.26 L500.47,439.34 L502.08,439.45 L503.67,439.62 L505.22,439.88 L506.73,440.25 L508.21,440.70 L509.65,441.24 L511.07,441.85 L512.47,442.51 L513.85,443.23 L515.23,443.97 L516.61,444.75 L517.99,445.53 L519.38,446.31 L520.78,447.08 L522.21,447.83 L523.67,448.54 L525.15,449.20 L526.68,449.80 L528.24,450.34 L529.84,450.82 L531.46,451.23 L533.09,451.58 L534.75,451.85 L536.41,452.06 L538.07,452.20 L539.73,452.27 L541.38,452.27 L543.01,452.19 L544.62,452.04 L546.21,451.82 L547.76,451.52 L549.28,451.14 L550.75,450.69 L552.17,450.16 L553.55,449.55 L554.89,448.88 L556.20,448.14 L557.47,447.34 L558.72,446.48 L559.94,445.57 L561.14,444.60 L562.32,443.59 L563.48,442.54 L564.63,441.45 L565.78,440.32 L566.93,439.15 L568.07,437.97 L569.21,436.75 L570.37,435.52 L571.53,434.27 L572.71,433.01 L573.89,431.74 L575.09,430.48 L576.30,429.23 L577.53,428.00 L578.76,426.79 L580.01,425.61 L581.27,424.47 L582.54,423.38 L583.83,422.34 L585.14,421.36 L586.45,420.45 L587.78,419.61 L589.13,418.85 L590.49,418.18 L591.86,417.61 L593.26,417.13 L594.66,416.76 L596.08,416.49 L597.52,416.31 L598.96,416.23 L600.41,416.23 L601.88,416.32 L603.35,416.49 L604.83,416.73 L606.31,417.05 L607.80,417.44 L609.29,417.89 L610.78,418.40 L612.27,418.98 L613.76,419.60 L615.25,420.28 L616.74,421.00 L618.22,421.76 L619.69,422.56 L621.16,423.40 L622.62,424.27 L624.08,425.17 L625.52,426.08 L626.95,427.02 L628.36,427.98 L629.76,428.94 L631.15,429.92 L632.52,430.90 L633.87,431.88 L635.21,432.86 L636.52,433.83 L637.82,434.80 L639.11,435.76 L640.38,436.72 L641.63,437.68 L642.88,438.63 L644.12,439.57 L645.36,440.52 L646.59,441.46 L647.81,442.39 L649.04,443.32 L650.26,444.25 L651.49,445.17 L652.72,446.09 L653.96,447.01 L655.20,447.92 L656.45,448.83 L657.72,449.74 L658.99,450.64 L660.28,451.54 L661.59,452.44 L662.91,453.33 L664.25,454.22 L665.61,455.11 L667.00,455.99 L668.40,456.87 L669.84,457.75 L671.30,458.63" stroke="#cc2222" clip-path="url(#c3)" class="cv"/>
<path d="M392.49,305.01 L392.93,306.53 L393.36,308.07 L393.79,309.60 L394.21,311.14 L394.62,312.68 L395.03,314.22 L395.44,315.76 L395.84,317.31 L396.23,318.87 L396.62,320.42 L397.01,321.98 L397.39,323.53 L397.76,325.10 L398.13,326.66 L398.50,328.23 L398.86,329.79 L399.22,331.36 L399.57,332.93 L399.92,334.51 L400.27,336.08 L400.62,337.66 L400.96,339.24 L401.29,340.82 L401.63,342.40 L401.96,343.98 L402.29,345.56 L402.62,347.15 L402.94,348.73 L403.26,350.32 L403.58,351.91 L403.90,353.49 L404.22,355.08 L404.53,356.67 L404.84,358.26 L405.15,359.85 L405.46,361.43 L405.77,363.02 L406.08,364.61 L406.39,366.20 L406.69,367.79 L407.00,369.38 L407.30,370.97 L407.61,372.55 L407.91,374.14 L408.22,375.73 L408.52,377.31 L408.83,378.90 L409.14,380.48 L409.44,382.06 L409.75,383.64 L410.06,385.22 L410.37,386.80 L410.67,388.38 L410.99,389.96 L411.30,391.53 L411.61,393.10 L411.93,394.67 L412.25,396.24 L412.57,397.81 L412.89,399.37 L413.21,400.93 L413.54,402.49 L413.87,404.05 L414.20,405.61 L414.53,407.16 L414.87,408.71 L415.21,410.25 L415.55,411.80 L415.90,413.34 L416.25,414.88 L416.61,416.41 L416.97,417.95 L417.33,419.48 L417.69,421.01 L418.07,422.54 L418.44,424.06 L418.82,425.59 L419.21,427.12 L419.60,428.65 L420.00,430.18 L420.40,431.71 L420.81,433.24 L421.22,434.78 L421.65,436.32 L422.07,437.86 L422.51,439.41 L422.95,440.96 L423.40,442.51 L423.85,444.07 L424.32,445.64 L424.79,447.21 L425.27,448.79 L425.76,450.38 L426.25,451.97 L426.76,453.57 L427.27,455.18 L427.80,456.79 L428.34,458.40 L428.89,460.01 L429.47,461.61 L430.07,463.19 L430.70,464.75 L431.36,466.29 L432.05,467.80 L432.78,469.28 L433.55,470.71 L434.36,472.11 L435.21,473.45 L436.11,474.75 L437.07,475.98 L438.08,477.16 L439.14,478.26 L440.27,479.30 L441.46,480.26 L442.71,481.13 L444.02,481.91 L445.38,482.57 L446.76,483.11 L448.16,483.50 L449.56,483.73 L450.96,483.78 L452.34,483.63 L453.68,483.28 L454.98,482.69 L456.22,481.88 L457.40,480.85 L458.51,479.66 L459.54,478.33 L460.48,476.88 L461.36,475.36 L462.16,473.77 L462.91,472.12 L463.60,470.45 L464.27,468.77 L464.90,467.09 L465.52,465.44 L466.13,463.82 L466.72,462.22 L467.30,460.64 L467.87,459.09 L468.43,457.55 L468.98,456.04 L469.52,454.54 L470.06,453.05 L470.59,451.58 L471.12,450.11 L471.64,448.66 L472.16,447.21 L472.68,445.77 L473.20,444.33 L473.72,442.89 L474.24,441.45 L474.76,440.00 L475.28,438.55 L475.81,437.10 L476.35,435.64 L476.88,434.17 L477.43,432.69 L477.97,431.22 L478.51,429.73 L479.06,428.24 L479.61,426.75 L480.16,425.25 L480.71,423.75 L481.27,422.24 L481.82,420.73 L482.37,419.22 L482.93,417.70 L483.48,416.18 L484.03,414.66 L484.58,413.13 L485.13,411.61 L485.67,410.08 L486.22,408.55 L486.76,407.02 L487.30,405.48 L487.83,403.95 L488.36,402.42 L488.89,400.88 L489.41,399.35 L489.92,397.81 L490.44,396.28 L490.94,394.75 L491.44,393.21 L491.94,391.68 L492.42,390.15 L492.90,388.63 L493.38,387.10 L493.85,385.58 L494.32,384.06 L494.79,382.54 L495.26,381.02 L495.75,379.50 L496.24,377.99 L496.75,376.48 L497.27,374.97 L497.81,373.47 L498.38,371.96 L498.96,370.46 L499.58,368.97 L500.22,367.47 L500.90,365.98 L501.61,364.49 L502.35,363.00 L503.14,361.52 L503.98,360.06 L504.88,358.64 L505.85,357.29 L506.89,356.04 L508.03,354.90 L509.27,353.89 L510.59,353.03 L511.99,352.32 L513.45,351.74 L514.96,351.30 L516.49,351.01 L518.04,350.85 L519.60,350.82 L521.14,350.94 L522.65,351.19 L524.12,351.57 L525.53,352.09 L526.90,352.72 L528.22,353.47 L529.50,354.32 L530.74,355.26 L531.95,356.29 L533.13,357.38 L534.28,358.54 L535.41,359.74 L536.52,360.99 L537.62,362.27 L538.70,363.57 L539.78,364.88 L540.86,366.20 L541.94,367.50 L543.02,368.79 L544.11,370.06 L545.21,371.30 L546.31,372.52 L547.42,373.71 L548.55,374.88 L549.68,376.04 L550.82,377.17 L551.98,378.27 L553.15,379.36 L554.32,380.42 L555.52,381.46 L556.72,382.49 L557.94,383.48 L559.17,384.46 L560.42,385.42 L561.68,386.36 L562.96,387.27 L564.26,388.17 L565.57,389.05 L566.90,389.90 L568.24,390.75 L569.59,391.58 L570.95,392.40 L572.32,393.21 L573.70,394.01 L575.08,394.82 L576.47,395.62 L577.85,396.42 L579.23,397.23 L580.62,398.04 L581.99,398.86 L583.36,399.70 L584.73,400.54 L586.08,401.40 L587.42,402.28 L588.75,403.18 L590.07,404.10 L591.37,405.05 L592.66,406.01 L593.93,406.99 L595.20,407.98 L596.45,409.00 L597.69,410.03 L598.93,411.07 L600.15,412.13 L601.37,413.20 L602.58,414.27 L603.78,415.36 L604.98,416.46 L606.17,417.57 L607.35,418.68 L608.54,419.80 L609.71,420.92 L610.89,422.04 L612.06,423.17 L613.23,424.30 L614.40,425.43 L615.57,426.56 L616.74,427.68 L617.91,428.81 L619.08,429.93 L620.26,431.04 L621.43,432.15 L622.62,433.24 L623.80,434.34 L624.99,435.42 L626.19,436.49 L627.39,437.55 L628.60,438.59 L629.81,439.62 L631.04,440.64 L632.27,441.64 L633.51,442.62 L634.77,443.59 L636.03,444.53 L637.31,445.46 L638.59,446.36 L639.89,447.24 L641.21,448.10 L642.54,448.93 L643.88,449.74 L645.24,450.52 L646.61,451.27 L648.00,451.99 L649.41,452.69 L650.84,453.35 L652.28,453.98 L653.75,454.57 L655.23,455.13 L656.74,455.66 L658.26,456.14 L659.81,456.60 L661.38,457.01 L662.98,457.38 L664.60,457.71 L666.24,458.00 L667.91,458.24 L669.60,458.44 L671.32,458.60" stroke="#1c14aa" clip-path="url(#c3)" class="cv"/>
<path d="M389.50,324.50 L389.87,326.07 L390.24,327.64 L390.61,329.21 L390.98,330.78 L391.35,332.35 L391.72,333.92 L392.10,335.49 L392.47,337.06 L392.84,338.62 L393.22,340.19 L393.59,341.76 L393.97,343.32 L394.35,344.89 L394.73,346.45 L395.12,348.02 L395.50,349.58 L395.89,351.14 L396.28,352.70 L396.67,354.26 L397.06,355.82 L397.46,357.38 L397.86,358.94 L398.26,360.49 L398.67,362.05 L399.07,363.60 L399.49,365.16 L399.90,366.71 L400.32,368.26 L400.74,369.81 L401.17,371.35 L401.60,372.90 L402.03,374.45 L402.47,375.99 L402.91,377.53 L403.35,379.07 L403.80,380.61 L404.26,382.15 L404.72,383.68 L405.18,385.22 L405.65,386.75 L406.13,388.28 L406.61,389.81 L407.09,391.33 L407.59,392.86 L408.08,394.38 L408.59,395.90 L409.09,397.42 L409.61,398.94 L410.13,400.45 L410.66,401.96 L411.19,403.47 L411.73,404.98 L412.27,406.49 L412.83,407.99 L413.39,409.49 L413.95,410.99 L414.53,412.49 L415.11,413.98 L415.70,415.48 L416.30,416.97 L416.90,418.45 L417.51,419.94 L418.13,421.42 L418.76,422.90 L419.40,424.37 L420.04,425.85 L420.69,427.32 L421.35,428.79 L422.02,430.25 L422.70,431.71 L423.39,433.17 L424.09,434.63 L424.79,436.08 L425.51,437.54 L426.23,438.98 L426.97,440.43 L427.71,441.87 L428.47,443.31 L429.23,444.74 L430.00,446.17 L430.79,447.60 L431.58,449.03 L432.39,450.45 L433.20,451.87 L434.03,453.28 L434.87,454.69 L435.73,456.08 L436.62,457.44 L437.53,458.79 L438.47,460.11 L439.44,461.39 L440.46,462.63 L441.51,463.83 L442.61,464.97 L443.75,466.07 L444.95,467.10 L446.21,468.07 L447.52,468.97 L448.89,469.79 L450.31,470.52 L451.77,471.14 L453.26,471.64 L454.76,471.99 L456.26,472.20 L457.75,472.23 L459.23,472.07 L460.68,471.72 L462.09,471.15 L463.46,470.39 L464.78,469.48 L466.06,468.44 L467.29,467.29 L468.47,466.09 L469.60,464.84 L470.67,463.58 L471.69,462.35 L472.67,461.17 L473.60,460.01 L474.52,458.87 L475.45,457.73 L476.41,456.58 L477.41,455.38 L478.48,454.14 L479.62,452.85 L480.82,451.53 L482.08,450.19 L483.39,448.86 L484.75,447.56 L486.13,446.30 L487.55,445.11 L488.99,444.00 L490.44,442.99 L491.90,442.10 L493.35,441.36 L494.80,440.77 L496.23,440.33 L497.66,440.05 L499.08,439.90 L500.49,439.88 L501.90,439.99 L503.29,440.21 L504.69,440.54 L506.08,440.97 L507.46,441.49 L508.84,442.09 L510.22,442.77 L511.60,443.52 L512.97,444.32 L514.35,445.18 L515.72,446.08 L517.10,447.01 L518.48,447.97 L519.86,448.96 L521.24,449.95 L522.63,450.94 L524.02,451.93 L525.41,452.91 L526.81,453.87 L528.22,454.80 L529.64,455.69 L531.06,456.53 L532.49,457.33 L533.93,458.06 L535.39,458.72 L536.85,459.31 L538.32,459.83 L539.80,460.27 L541.29,460.65 L542.79,460.97 L544.30,461.22 L545.81,461.42 L547.34,461.56 L548.87,461.65 L550.40,461.69 L551.95,461.68 L553.50,461.63 L555.05,461.54 L556.61,461.41 L558.17,461.24 L559.74,461.04 L561.31,460.81 L562.89,460.56 L564.46,460.28 L566.04,459.98 L567.63,459.66 L569.21,459.33 L570.79,458.99 L572.38,458.63 L573.96,458.27 L575.55,457.91 L577.13,457.54 L578.72,457.19 L580.30,456.84 L581.89,456.50 L583.47,456.19 L585.05,455.89 L586.64,455.62 L588.22,455.38 L589.81,455.17 L591.39,455.00 L592.98,454.87 L594.56,454.78 L596.15,454.75 L597.73,454.77 L599.31,454.85 L600.90,454.98 L602.48,455.17 L604.07,455.41 L605.65,455.68 L607.24,455.99 L608.82,456.33 L610.41,456.68 L611.99,457.05 L613.58,457.43 L615.17,457.80 L616.76,458.18 L618.35,458.53 L619.94,458.87 L621.53,459.18 L623.13,459.46 L624.72,459.70 L626.32,459.90 L627.92,460.05 L629.52,460.15 L631.12,460.22 L632.73,460.25 L634.33,460.25 L635.94,460.21 L637.54,460.15 L639.15,460.07 L640.76,459.97 L642.36,459.85 L643.97,459.71 L645.58,459.57 L647.19,459.42 L648.80,459.27 L650.41,459.12 L652.02,458.97 L653.63,458.82 L655.24,458.69 L656.85,458.57 L658.46,458.46 L660.07,458.38 L661.67,458.32 L663.28,458.28 L664.89,458.27 L666.49,458.30 L668.10,458.36 L669.70,458.46 L671.30,458.61" stroke="#111111" clip-path="url(#c3)" class="cv"/>
<path d="M389.00,308.50H672.00" class="ax axR"/>
<path d="M389.00,515.50H672.00" class="ax axR"/>
<path d="M389.50,308.00V516.00" class="ax axR"/>
<path d="M671.50,308.00V516.00" class="ax axR"/>
<path d="M389.50,515.50H386.90 M389.50,496.68H385.30 M389.50,477.86H386.90 M389.50,459.05H385.30 M389.50,440.23H386.90 M389.50,421.41H385.30 M389.50,402.59H386.90 M389.50,383.77H385.30 M389.50,364.95H386.90 M389.50,346.14H385.30 M389.50,327.32H386.90 M389.50,308.50H385.30 M389.50,515.50V519.70 M417.70,515.50V518.10 M445.90,515.50V519.70 M474.10,515.50V518.10 M502.30,515.50V519.70 M530.50,515.50V518.10 M558.70,515.50V519.70 M586.90,515.50V518.10 M615.10,515.50V519.70 M643.30,515.50V518.10 M671.50,515.50V519.70" class="tk"/>
<text x="382.50" y="500.48" class="tl" text-anchor="end">-2</text>
<text x="382.50" y="462.85" class="tl" text-anchor="end">0</text>
<text x="382.50" y="425.21" class="tl" text-anchor="end">2</text>
<text x="382.50" y="387.57" class="tl" text-anchor="end">4</text>
<text x="382.50" y="349.94" class="tl" text-anchor="end">6</text>
<text x="382.50" y="312.30" class="tl" text-anchor="end">8</text>
<text x="389.50" y="533.00" class="tl" text-anchor="middle">220</text>
<text x="445.90" y="533.00" class="tl" text-anchor="middle">240</text>
<text x="502.30" y="533.00" class="tl" text-anchor="middle">260</text>
<text x="558.70" y="533.00" class="tl" text-anchor="middle">280</text>
<text x="615.10" y="533.00" class="tl" text-anchor="middle">300</text>
<text x="671.50" y="533.00" class="tl" text-anchor="middle">320</text>
<text x="539.50" y="557.50" class="xt" text-anchor="middle">Wavelength(nm)</text>
<text transform="translate(361.50,423.50) rotate(-90)" class="yt" text-anchor="middle">CD/mdeg</text>
<text x="506.50" y="302.20" class="tt"><tspan y="302.20">Hum15</tspan></text>
<text x="465.90" y="368.10" class="lb">Ca<tspan class="sp" dy="-6.5">2+</tspan></text>
<text x="527.20" y="351.70" class="lb">K<tspan class="sp" dy="-6.5">+</tspan></text>
<text x="566.60" y="366.80" class="lb">Mg<tspan class="sp" dy="-6.5">2+</tspan></text>
<text x="632.20" y="429.20" class="lb">Na<tspan class="sp" dy="-6.5">+</tspan></text>
<text x="532.90" y="475.70" class="lb">No ion</text>
<path d="M481.80,361.50L503.24,370.29" class="ar"/><path d="M507.40,372.00L502.09,371.77L503.46,368.44Z" class="ah"/>
<path d="M568.70,365.50L538.72,385.96" class="ar"/><path d="M535.00,388.50L538.12,384.19L540.14,387.17Z" class="ah"/>
<clipPath id="c4"><rect x="43.50" y="600.20" width="281.70" height="206.70"/></clipPath>
<path d="M43.50,710.79 L44.43,712.26 L45.36,713.70 L46.30,715.11 L47.24,716.49 L48.18,717.84 L49.13,719.17 L50.09,720.46 L51.06,721.73 L52.03,722.98 L53.02,724.20 L54.02,725.40 L55.03,726.58 L56.06,727.73 L57.10,728.86 L58.16,729.97 L59.23,731.07 L60.32,732.14 L61.44,733.20 L62.57,734.23 L63.72,735.26 L64.90,736.26 L66.10,737.25 L67.33,738.23 L68.58,739.19 L69.86,740.15 L71.17,741.09 L72.51,742.01 L73.88,742.93 L75.28,743.84 L76.71,744.74 L78.18,745.64 L79.68,746.52 L81.21,747.38 L82.76,748.21 L84.33,749.00 L85.92,749.74 L87.51,750.41 L89.10,751.01 L90.69,751.52 L92.27,751.94 L93.84,752.25 L95.40,752.44 L96.92,752.50 L98.42,752.43 L99.89,752.20 L101.32,751.82 L102.71,751.31 L104.07,750.67 L105.39,749.91 L106.68,749.06 L107.93,748.12 L109.14,747.10 L110.33,746.03 L111.47,744.91 L112.59,743.76 L113.67,742.58 L114.72,741.38 L115.73,740.16 L116.72,738.93 L117.68,737.67 L118.61,736.39 L119.51,735.10 L120.39,733.78 L121.25,732.46 L122.08,731.11 L122.89,729.75 L123.68,728.38 L124.44,726.99 L125.19,725.59 L125.92,724.18 L126.64,722.75 L127.33,721.31 L128.02,719.87 L128.69,718.41 L129.34,716.95 L129.99,715.47 L130.63,713.99 L131.25,712.50 L131.87,711.01 L132.48,709.51 L133.09,708.00 L133.69,706.49 L134.29,704.98 L134.88,703.46 L135.47,701.94 L136.07,700.42 L136.66,698.90 L137.25,697.38 L137.85,695.86 L138.45,694.34 L139.06,692.82 L139.67,691.31 L140.29,689.80 L140.92,688.29 L141.56,686.78 L142.21,685.29 L142.87,683.79 L143.54,682.31 L144.23,680.83 L144.93,679.36 L145.64,677.90 L146.38,676.45 L147.13,675.01 L147.90,673.57 L148.70,672.16 L149.51,670.75 L150.35,669.37 L151.22,668.01 L152.13,666.67 L153.06,665.36 L154.04,664.09 L155.05,662.84 L156.10,661.64 L157.20,660.48 L158.34,659.37 L159.54,658.30 L160.79,657.29 L162.09,656.33 L163.44,655.45 L164.83,654.72 L166.26,654.18 L167.70,653.90 L169.15,653.89 L170.60,654.13 L172.04,654.58 L173.47,655.22 L174.86,656.01 L176.23,656.92 L177.55,657.93 L178.82,658.99 L180.03,660.10 L181.19,661.24 L182.30,662.42 L183.37,663.63 L184.39,664.88 L185.37,666.15 L186.31,667.45 L187.22,668.78 L188.10,670.12 L188.96,671.48 L189.79,672.87 L190.59,674.26 L191.38,675.67 L192.16,677.09 L192.92,678.52 L193.68,679.95 L194.43,681.38 L195.18,682.82 L195.93,684.25 L196.68,685.68 L197.44,687.11 L198.22,688.52 L199.00,689.93 L199.81,691.32 L200.63,692.70 L201.48,694.06 L202.35,695.40 L203.26,696.71 L204.19,698.00 L205.17,699.27 L206.18,700.50 L207.23,701.71 L208.31,702.90 L209.40,704.08 L210.51,705.25 L211.61,706.44 L212.69,707.64 L213.76,708.86 L214.79,710.12 L215.78,711.41 L216.72,712.76 L217.60,714.15 L218.46,715.58 L219.31,716.99 L220.19,718.39 L221.11,719.72 L222.11,720.98 L223.20,722.15 L224.36,723.22 L225.60,724.21 L226.90,725.12 L228.25,725.95 L229.66,726.71 L231.10,727.39 L232.58,728.01 L234.08,728.56 L235.59,729.06 L237.12,729.50 L238.65,729.88 L240.20,730.22 L241.75,730.51 L243.31,730.75 L244.88,730.95 L246.46,731.12 L248.04,731.25 L249.63,731.34 L251.23,731.41 L252.83,731.45 L254.43,731.46 L256.04,731.45 L257.65,731.43 L259.27,731.39 L260.89,731.33 L262.51,731.27 L264.13,731.20 L265.76,731.12 L267.38,731.04 L269.01,730.97 L270.63,730.90 L272.26,730.83 L273.88,730.78 L275.50,730.73 L277.12,730.71 L278.74,730.70 L280.36,730.71 L281.97,730.75 L283.58,730.82 L285.18,730.90 L286.78,731.02 L288.38,731.15 L289.98,731.30 L291.57,731.46 L293.16,731.64 L294.75,731.83 L296.34,732.02 L297.93,732.22 L299.52,732.42 L301.11,732.62 L302.70,732.82 L304.29,733.01 L305.88,733.19 L307.47,733.36 L309.07,733.52 L310.66,733.66 L312.26,733.79 L313.87,733.89 L315.47,733.97 L317.08,734.02 L318.70,734.04 L320.31,734.03 L321.94,733.99 L323.57,733.91 L325.20,733.79" stroke="#d82ad8" clip-path="url(#c4)" class="cv"/>
<path d="M43.50,712.50 L44.04,714.07 L44.61,715.62 L45.20,717.15 L45.82,718.66 L46.47,720.14 L47.14,721.61 L47.84,723.05 L48.56,724.47 L49.31,725.87 L50.08,727.26 L50.88,728.62 L51.70,729.97 L52.55,731.30 L53.42,732.61 L54.32,733.91 L55.24,735.19 L56.19,736.46 L57.17,737.71 L58.17,738.94 L59.19,740.16 L60.24,741.37 L61.31,742.57 L62.41,743.75 L63.53,744.92 L64.68,746.08 L65.85,747.23 L67.05,748.35 L68.27,749.46 L69.52,750.53 L70.79,751.57 L72.09,752.57 L73.41,753.53 L74.76,754.44 L76.14,755.30 L77.54,756.11 L78.97,756.85 L80.43,757.52 L81.92,758.12 L83.43,758.65 L84.97,759.09 L86.53,759.45 L88.12,759.73 L89.72,759.91 L91.33,760.01 L92.94,760.02 L94.55,759.94 L96.14,759.76 L97.71,759.50 L99.26,759.15 L100.77,758.70 L102.24,758.16 L103.66,757.53 L105.02,756.81 L106.33,755.98 L107.57,755.07 L108.75,754.07 L109.87,752.98 L110.94,751.83 L111.96,750.61 L112.93,749.33 L113.87,748.00 L114.77,746.63 L115.63,745.22 L116.48,743.79 L117.29,742.33 L118.09,740.85 L118.88,739.37 L119.65,737.89 L120.42,736.41 L121.19,734.95 L121.95,733.49 L122.71,732.04 L123.46,730.59 L124.21,729.16 L124.95,727.72 L125.68,726.29 L126.42,724.87 L127.14,723.45 L127.86,722.03 L128.58,720.61 L129.29,719.20 L129.99,717.78 L130.68,716.37 L131.37,714.95 L132.05,713.54 L132.73,712.12 L133.40,710.69 L134.06,709.27 L134.71,707.84 L135.36,706.40 L135.99,704.96 L136.62,703.51 L137.24,702.05 L137.86,700.59 L138.46,699.12 L139.06,697.64 L139.64,696.15 L140.22,694.65 L140.79,693.13 L141.35,691.61 L141.90,690.07 L142.44,688.53 L142.99,686.98 L143.53,685.42 L144.08,683.87 L144.64,682.31 L145.21,680.76 L145.79,679.22 L146.39,677.68 L147.01,676.16 L147.66,674.65 L148.33,673.16 L149.03,671.68 L149.77,670.23 L150.54,668.80 L151.35,667.39 L152.21,666.02 L153.11,664.68 L154.06,663.37 L155.07,662.10 L156.13,660.86 L157.24,659.68 L158.41,658.55 L159.62,657.50 L160.87,656.54 L162.16,655.70 L163.47,654.97 L164.81,654.39 L166.17,653.96 L167.53,653.70 L168.91,653.63 L170.28,653.75 L171.64,654.06 L172.98,654.54 L174.28,655.19 L175.54,656.00 L176.76,656.96 L177.93,658.04 L179.05,659.24 L180.15,660.52 L181.20,661.88 L182.22,663.28 L183.22,664.72 L184.19,666.18 L185.13,667.63 L186.05,669.07 L186.95,670.50 L187.84,671.92 L188.70,673.34 L189.55,674.74 L190.38,676.14 L191.20,677.54 L192.00,678.93 L192.79,680.31 L193.57,681.69 L194.34,683.06 L195.10,684.43 L195.86,685.80 L196.61,687.17 L197.35,688.53 L198.10,689.89 L198.84,691.25 L199.57,692.61 L200.31,693.97 L201.05,695.33 L201.80,696.70 L202.54,698.06 L203.30,699.43 L204.05,700.80 L204.82,702.17 L205.60,703.54 L206.38,704.93 L207.18,706.31 L207.99,707.70 L208.81,709.10 L209.65,710.51 L210.51,711.92 L211.38,713.33 L212.27,714.75 L213.18,716.17 L214.10,717.58 L215.05,718.98 L216.02,720.36 L217.01,721.73 L218.02,723.07 L219.05,724.39 L220.11,725.68 L221.19,726.94 L222.29,728.16 L223.42,729.33 L224.58,730.46 L225.76,731.55 L226.96,732.57 L228.20,733.55 L229.46,734.46 L230.76,735.30 L232.08,736.08 L233.43,736.78 L234.81,737.42 L236.22,737.98 L237.65,738.48 L239.11,738.92 L240.59,739.30 L242.09,739.62 L243.61,739.89 L245.15,740.10 L246.70,740.27 L248.28,740.38 L249.86,740.46 L251.46,740.49 L253.07,740.48 L254.69,740.44 L256.32,740.36 L257.95,740.25 L259.59,740.11 L261.23,739.95 L262.87,739.76 L264.52,739.55 L266.16,739.33 L267.80,739.09 L269.44,738.83 L271.07,738.57 L272.70,738.30 L274.32,738.02 L275.92,737.74 L277.52,737.46 L279.11,737.18 L280.70,736.90 L282.28,736.62 L283.85,736.35 L285.42,736.08 L286.98,735.81 L288.54,735.55 L290.10,735.30 L291.65,735.05 L293.21,734.82 L294.76,734.59 L296.32,734.38 L297.87,734.18 L299.43,734.00 L300.99,733.83 L302.55,733.67 L304.12,733.53 L305.69,733.41 L307.27,733.31 L308.85,733.23 L310.44,733.18 L312.04,733.14 L313.65,733.13 L315.27,733.14 L316.89,733.18 L318.53,733.25 L320.18,733.34 L321.84,733.47 L323.52,733.62 L325.20,733.80" stroke="#3ae03a" clip-path="url(#c4)" class="cv"/>
<path d="M43.50,687.99 L44.15,689.52 L44.82,691.03 L45.50,692.53 L46.19,694.01 L46.90,695.47 L47.62,696.93 L48.36,698.36 L49.11,699.79 L49.88,701.20 L50.66,702.60 L51.44,703.99 L52.24,705.37 L53.06,706.74 L53.88,708.10 L54.71,709.45 L55.56,710.79 L56.41,712.13 L57.27,713.45 L58.14,714.78 L59.02,716.09 L59.91,717.40 L60.80,718.71 L61.70,720.01 L62.61,721.31 L63.53,722.60 L64.45,723.90 L65.37,725.19 L66.30,726.48 L67.24,727.77 L68.17,729.06 L69.12,730.35 L70.06,731.65 L71.01,732.94 L71.96,734.24 L72.91,735.54 L73.87,736.84 L74.82,738.15 L75.78,739.47 L76.73,740.78 L77.69,742.11 L78.64,743.44 L79.60,744.78 L80.55,746.12 L81.52,747.45 L82.49,748.78 L83.48,750.10 L84.47,751.40 L85.49,752.69 L86.52,753.96 L87.57,755.20 L88.65,756.41 L89.75,757.59 L90.88,758.73 L92.05,759.84 L93.25,760.90 L94.48,761.91 L95.75,762.88 L97.07,763.79 L98.43,764.64 L99.84,765.42 L101.29,766.14 L102.77,766.79 L104.28,767.34 L105.81,767.80 L107.33,768.14 L108.84,768.37 L110.33,768.46 L111.78,768.42 L113.19,768.22 L114.54,767.86 L115.82,767.33 L117.02,766.61 L118.14,765.72 L119.19,764.68 L120.17,763.50 L121.09,762.20 L121.95,760.79 L122.75,759.30 L123.51,757.73 L124.23,756.11 L124.91,754.46 L125.55,752.78 L126.18,751.11 L126.77,749.45 L127.36,747.81 L127.93,746.23 L128.49,744.68 L129.04,743.17 L129.58,741.69 L130.12,740.23 L130.66,738.78 L131.19,737.35 L131.72,735.91 L132.25,734.47 L132.78,733.02 L133.31,731.55 L133.85,730.08 L134.38,728.59 L134.91,727.09 L135.44,725.59 L135.98,724.07 L136.50,722.55 L137.03,721.02 L137.55,719.48 L138.07,717.94 L138.59,716.40 L139.10,714.85 L139.61,713.30 L140.11,711.75 L140.61,710.19 L141.10,708.64 L141.58,707.09 L142.06,705.54 L142.52,704.00 L142.98,702.45 L143.44,700.92 L143.88,699.38 L144.32,697.85 L144.75,696.33 L145.18,694.81 L145.61,693.29 L146.04,691.77 L146.47,690.26 L146.90,688.74 L147.34,687.23 L147.78,685.72 L148.24,684.22 L148.70,682.71 L149.17,681.20 L149.65,679.69 L150.15,678.19 L150.66,676.68 L151.18,675.17 L151.73,673.66 L152.29,672.15 L152.88,670.63 L153.49,669.12 L154.12,667.60 L154.77,666.08 L155.46,664.56 L156.17,663.03 L156.92,661.51 L157.70,660.00 L158.52,658.50 L159.39,657.02 L160.30,655.55 L161.27,654.11 L162.28,652.70 L163.34,651.36 L164.45,650.12 L165.61,649.00 L166.82,648.02 L168.07,647.23 L169.37,646.63 L170.71,646.24 L172.08,646.04 L173.47,646.03 L174.87,646.19 L176.28,646.51 L177.68,646.97 L179.07,647.57 L180.43,648.29 L181.76,649.12 L183.05,650.04 L184.30,651.05 L185.48,652.13 L186.60,653.27 L187.66,654.47 L188.67,655.72 L189.64,657.02 L190.56,658.36 L191.44,659.73 L192.30,661.13 L193.12,662.55 L193.93,663.99 L194.72,665.45 L195.50,666.91 L196.27,668.37 L197.03,669.83 L197.79,671.29 L198.56,672.75 L199.31,674.21 L200.07,675.66 L200.83,677.10 L201.60,678.55 L202.36,679.98 L203.13,681.41 L203.91,682.84 L204.70,684.25 L205.49,685.66 L206.29,687.05 L207.10,688.44 L207.93,689.81 L208.76,691.17 L209.61,692.52 L210.48,693.86 L211.36,695.18 L212.26,696.48 L213.18,697.77 L214.12,699.05 L215.08,700.30 L216.06,701.54 L217.07,702.76 L218.10,703.95 L219.15,705.13 L220.24,706.28 L221.35,707.42 L222.49,708.53 L223.66,709.61 L224.86,710.67 L226.08,711.70 L227.34,712.71 L228.62,713.68 L229.92,714.62 L231.25,715.52 L232.60,716.39 L233.98,717.22 L235.37,718.01 L236.79,718.75 L238.23,719.46 L239.69,720.12 L241.17,720.73 L242.66,721.29 L244.18,721.81 L245.70,722.27 L247.25,722.68 L248.80,723.04 L250.37,723.37 L251.95,723.65 L253.54,723.91 L255.14,724.14 L256.74,724.35 L258.34,724.55 L259.95,724.73 L261.57,724.91 L263.18,725.09 L264.79,725.27 L266.39,725.47 L268.00,725.67 L269.60,725.89 L271.19,726.11 L272.79,726.34 L274.38,726.58 L275.97,726.83 L277.55,727.09 L279.14,727.35 L280.72,727.61 L282.30,727.88 L283.88,728.16 L285.46,728.43 L287.04,728.71 L288.62,728.99 L290.19,729.26 L291.77,729.54 L293.35,729.82 L294.92,730.09 L296.50,730.36 L298.08,730.63 L299.66,730.89 L301.24,731.15 L302.82,731.40 L304.40,731.64 L305.98,731.87 L307.57,732.10 L309.16,732.32 L310.75,732.52 L312.34,732.72 L313.94,732.90 L315.54,733.08 L317.14,733.23 L318.74,733.38 L320.35,733.51 L321.96,733.62 L323.58,733.72 L325.20,733.80" stroke="#cc2222" clip-path="url(#c4)" class="cv"/>
<path d="M43.50,656.00 L44.01,657.54 L44.53,659.08 L45.04,660.62 L45.56,662.16 L46.08,663.69 L46.60,665.23 L47.12,666.76 L47.65,668.29 L48.18,669.81 L48.71,671.34 L49.24,672.86 L49.78,674.38 L50.31,675.89 L50.86,677.41 L51.40,678.92 L51.95,680.43 L52.50,681.94 L53.05,683.45 L53.61,684.95 L54.17,686.46 L54.73,687.96 L55.30,689.46 L55.87,690.95 L56.44,692.45 L57.02,693.94 L57.60,695.43 L58.18,696.92 L58.77,698.41 L59.36,699.89 L59.96,701.37 L60.56,702.85 L61.17,704.33 L61.78,705.81 L62.39,707.28 L63.01,708.76 L63.64,710.23 L64.26,711.70 L64.90,713.17 L65.53,714.63 L66.18,716.10 L66.83,717.56 L67.48,719.02 L68.14,720.48 L68.80,721.94 L69.47,723.39 L70.14,724.84 L70.82,726.30 L71.51,727.75 L72.20,729.19 L72.90,730.64 L73.60,732.09 L74.31,733.53 L75.02,734.97 L75.74,736.41 L76.47,737.85 L77.21,739.29 L77.95,740.72 L78.69,742.16 L79.44,743.59 L80.20,745.02 L80.97,746.45 L81.74,747.88 L82.52,749.30 L83.31,750.73 L84.10,752.15 L84.91,753.57 L85.71,754.99 L86.53,756.41 L87.37,757.82 L88.21,759.22 L89.08,760.61 L89.97,761.99 L90.89,763.36 L91.83,764.70 L92.80,766.03 L93.80,767.34 L94.85,768.63 L95.93,769.89 L97.05,771.12 L98.22,772.33 L99.43,773.50 L100.69,774.64 L101.99,775.70 L103.31,776.66 L104.63,777.45 L105.94,778.05 L107.20,778.40 L108.42,778.46 L109.58,778.25 L110.69,777.78 L111.75,777.08 L112.76,776.18 L113.72,775.12 L114.64,773.90 L115.52,772.57 L116.37,771.15 L117.17,769.67 L117.95,768.15 L118.69,766.62 L119.40,765.08 L120.09,763.54 L120.75,762.00 L121.38,760.46 L121.99,758.91 L122.58,757.36 L123.14,755.80 L123.68,754.24 L124.20,752.68 L124.70,751.12 L125.18,749.56 L125.64,747.99 L126.09,746.42 L126.52,744.85 L126.94,743.28 L127.34,741.71 L127.73,740.14 L128.11,738.56 L128.48,736.99 L128.84,735.41 L129.19,733.84 L129.54,732.26 L129.88,730.69 L130.21,729.11 L130.54,727.54 L130.87,725.96 L131.19,724.39 L131.51,722.82 L131.84,721.25 L132.16,719.68 L132.49,718.11 L132.82,716.55 L133.16,714.99 L133.50,713.43 L133.85,711.87 L134.20,710.31 L134.56,708.76 L134.93,707.21 L135.30,705.66 L135.67,704.11 L136.06,702.57 L136.44,701.02 L136.83,699.48 L137.23,697.94 L137.63,696.39 L138.03,694.85 L138.43,693.31 L138.84,691.77 L139.25,690.23 L139.66,688.69 L140.08,687.15 L140.49,685.61 L140.91,684.07 L141.32,682.53 L141.74,680.98 L142.16,679.44 L142.57,677.89 L142.99,676.34 L143.40,674.80 L143.82,673.24 L144.23,671.69 L144.64,670.14 L145.05,668.58 L145.45,667.02 L145.85,665.46 L146.25,663.89 L146.65,662.32 L147.04,660.75 L147.42,659.17 L147.81,657.59 L148.18,656.01 L148.56,654.42 L148.92,652.83 L149.28,651.24 L149.63,649.64 L149.98,648.03 L150.33,646.43 L150.67,644.82 L151.03,643.21 L151.38,641.61 L151.75,640.01 L152.13,638.41 L152.53,636.83 L152.95,635.25 L153.40,633.68 L153.87,632.13 L154.37,630.59 L154.91,629.07 L155.48,627.57 L156.09,626.09 L156.75,624.62 L157.45,623.19 L158.21,621.77 L159.02,620.39 L159.88,619.03 L160.81,617.70 L161.80,616.41 L162.85,615.16 L163.96,613.98 L165.13,612.92 L166.33,611.99 L167.58,611.24 L168.86,610.70 L170.16,610.41 L171.49,610.38 L172.82,610.63 L174.15,611.13 L175.45,611.84 L176.72,612.75 L177.94,613.82 L179.10,615.02 L180.17,616.33 L181.15,617.72 L182.03,619.16 L182.83,620.65 L183.56,622.18 L184.23,623.72 L184.88,625.28 L185.51,626.84 L186.13,628.38 L186.76,629.91 L187.39,631.43 L188.02,632.94 L188.64,634.44 L189.27,635.93 L189.90,637.41 L190.53,638.89 L191.16,640.36 L191.78,641.82 L192.41,643.29 L193.03,644.75 L193.65,646.20 L194.26,647.66 L194.88,649.12 L195.49,650.58 L196.09,652.05 L196.70,653.52 L197.30,654.99 L197.89,656.46 L198.49,657.93 L199.08,659.41 L199.67,660.89 L200.27,662.37 L200.86,663.85 L201.45,665.33 L202.05,666.82 L202.65,668.30 L203.25,669.78 L203.85,671.27 L204.45,672.75 L205.06,674.24 L205.68,675.72 L206.30,677.20 L206.92,678.68 L207.55,680.16 L208.19,681.64 L208.83,683.12 L209.49,684.59 L210.15,686.07 L210.82,687.54 L211.49,689.01 L212.18,690.47 L212.88,691.93 L213.59,693.39 L214.31,694.84 L215.04,696.30 L215.79,697.74 L216.54,699.19 L217.32,700.62 L218.10,702.06 L218.90,703.48 L219.71,704.91 L220.55,706.32 L221.39,707.73 L222.26,709.12 L223.15,710.49 L224.06,711.84 L225.00,713.17 L225.96,714.46 L226.95,715.72 L227.97,716.95 L229.02,718.13 L230.11,719.27 L231.23,720.36 L232.38,721.39 L233.57,722.37 L234.81,723.29 L236.08,724.14 L237.40,724.93 L238.76,725.65 L240.17,726.29 L241.63,726.85 L243.12,727.34 L244.66,727.77 L246.23,728.13 L247.82,728.45 L249.44,728.72 L251.08,728.95 L252.73,729.14 L254.39,729.31 L256.06,729.46 L257.73,729.59 L259.39,729.71 L261.04,729.83 L262.69,729.94 L264.33,730.04 L265.96,730.15 L267.59,730.24 L269.21,730.34 L270.83,730.43 L272.44,730.52 L274.05,730.60 L275.66,730.68 L277.26,730.76 L278.86,730.84 L280.45,730.92 L282.04,730.99 L283.63,731.07 L285.22,731.14 L286.80,731.21 L288.39,731.29 L289.97,731.36 L291.55,731.44 L293.13,731.51 L294.71,731.59 L296.30,731.67 L297.88,731.75 L299.46,731.84 L301.05,731.93 L302.63,732.02 L304.22,732.11 L305.81,732.21 L307.40,732.31 L309.00,732.42 L310.60,732.53 L312.20,732.65 L313.81,732.77 L315.42,732.89 L317.04,733.03 L318.66,733.17 L320.29,733.32 L321.92,733.47 L323.56,733.63 L325.20,733.80" stroke="#1c14aa" clip-path="url(#c4)" class="cv"/>
<path d="M43.50,704.79 L44.46,706.16 L45.42,707.50 L46.39,708.83 L47.37,710.14 L48.35,711.44 L49.35,712.73 L50.35,714.00 L51.36,715.25 L52.37,716.50 L53.40,717.73 L54.43,718.95 L55.47,720.16 L56.52,721.35 L57.57,722.54 L58.64,723.72 L59.71,724.89 L60.79,726.05 L61.88,727.20 L62.98,728.34 L64.09,729.48 L65.20,730.60 L66.32,731.73 L67.46,732.84 L68.60,733.96 L69.75,735.06 L70.91,736.17 L72.08,737.27 L73.25,738.36 L74.44,739.46 L75.63,740.55 L76.84,741.64 L78.05,742.73 L79.28,743.82 L80.51,744.90 L81.76,745.98 L83.01,747.05 L84.28,748.10 L85.57,749.14 L86.87,750.16 L88.19,751.16 L89.52,752.14 L90.87,753.08 L92.24,754.00 L93.63,754.89 L95.04,755.73 L96.48,756.54 L97.93,757.31 L99.42,758.03 L100.92,758.71 L102.44,759.32 L103.97,759.86 L105.50,760.32 L107.03,760.70 L108.55,760.96 L110.05,761.12 L111.52,761.15 L112.96,761.04 L114.36,760.79 L115.71,760.38 L117.01,759.82 L118.27,759.11 L119.47,758.28 L120.63,757.33 L121.75,756.28 L122.82,755.12 L123.85,753.88 L124.83,752.56 L125.78,751.18 L126.68,749.75 L127.54,748.27 L128.36,746.76 L129.14,745.22 L129.89,743.68 L130.60,742.13 L131.28,740.57 L131.93,739.01 L132.57,737.45 L133.18,735.89 L133.78,734.33 L134.37,732.78 L134.95,731.24 L135.53,729.71 L136.11,728.19 L136.69,726.69 L137.28,725.20 L137.87,723.73 L138.47,722.26 L139.07,720.81 L139.67,719.36 L140.28,717.92 L140.90,716.48 L141.51,715.05 L142.14,713.62 L142.76,712.19 L143.39,710.76 L144.03,709.33 L144.67,707.90 L145.31,706.46 L145.96,705.02 L146.61,703.57 L147.27,702.11 L147.93,700.64 L148.60,699.16 L149.27,697.67 L149.95,696.16 L150.64,694.65 L151.34,693.13 L152.06,691.62 L152.80,690.12 L153.57,688.62 L154.37,687.15 L155.21,685.70 L156.09,684.28 L157.01,682.90 L157.98,681.55 L159.00,680.25 L160.09,679.00 L161.23,677.81 L162.44,676.68 L163.71,675.62 L165.02,674.65 L166.38,673.77 L167.77,673.00 L169.19,672.35 L170.63,671.83 L172.09,671.45 L173.55,671.22 L175.01,671.15 L176.46,671.24 L177.90,671.48 L179.33,671.87 L180.74,672.38 L182.13,673.01 L183.50,673.75 L184.83,674.59 L186.13,675.52 L187.40,676.53 L188.62,677.61 L189.81,678.74 L190.94,679.92 L192.03,681.15 L193.08,682.40 L194.09,683.68 L195.08,684.99 L196.06,686.30 L197.02,687.63 L197.98,688.96 L198.95,690.28 L199.92,691.60 L200.92,692.90 L201.93,694.18 L202.97,695.44 L204.04,696.68 L205.12,697.90 L206.23,699.09 L207.36,700.26 L208.51,701.41 L209.68,702.54 L210.87,703.65 L212.08,704.73 L213.30,705.79 L214.55,706.82 L215.81,707.83 L217.09,708.82 L218.38,709.78 L219.69,710.72 L221.02,711.63 L222.36,712.52 L223.71,713.38 L225.08,714.21 L226.46,715.02 L227.85,715.80 L229.25,716.55 L230.67,717.28 L232.09,717.98 L233.53,718.65 L234.98,719.30 L236.44,719.92 L237.90,720.52 L239.38,721.10 L240.87,721.65 L242.36,722.19 L243.87,722.70 L245.38,723.19 L246.90,723.66 L248.43,724.10 L249.97,724.53 L251.51,724.94 L253.06,725.34 L254.62,725.71 L256.18,726.07 L257.75,726.41 L259.32,726.74 L260.90,727.05 L262.49,727.35 L264.08,727.63 L265.67,727.90 L267.27,728.16 L268.88,728.40 L270.48,728.63 L272.09,728.85 L273.71,729.06 L275.32,729.27 L276.94,729.46 L278.56,729.64 L280.18,729.82 L281.81,729.98 L283.43,730.14 L285.06,730.30 L286.69,730.45 L288.32,730.59 L289.94,730.73 L291.57,730.86 L293.20,730.99 L294.82,731.12 L296.45,731.25 L298.07,731.37 L299.70,731.50 L301.32,731.62 L302.94,731.74 L304.55,731.87 L306.16,731.99 L307.77,732.12 L309.38,732.25 L310.98,732.38 L312.58,732.52 L314.18,732.66 L315.77,732.80 L317.35,732.95 L318.93,733.11 L320.51,733.27 L322.07,733.44 L323.64,733.62 L325.19,733.81" stroke="#111111" clip-path="url(#c4)" class="cv"/>
<path d="M43.00,600.20H325.70" class="ax axL"/>
<path d="M43.00,806.90H325.70" class="ax axL"/>
<path d="M43.50,599.70V807.40" class="ax axL"/>
<path d="M325.20,599.70V807.40" class="ax axL"/>
<path d="M43.50,794.74H39.30 M43.50,779.54H40.90 M43.50,764.34H39.30 M43.50,749.15H40.90 M43.50,733.95H39.30 M43.50,718.75H40.90 M43.50,703.55H39.30 M43.50,688.35H40.90 M43.50,673.15H39.30 M43.50,657.95H40.90 M43.50,642.76H39.30 M43.50,627.56H40.90 M43.50,612.36H39.30 M43.50,806.90V811.10 M71.67,806.90V809.50 M99.84,806.90V811.10 M128.01,806.90V809.50 M156.18,806.90V811.10 M184.35,806.90V809.50 M212.52,806.90V811.10 M240.69,806.90V809.50 M268.86,806.90V811.10 M297.03,806.90V809.50 M325.20,806.90V811.10" class="tk"/>
<text x="36.50" y="798.54" class="tl" text-anchor="end">-10</text>
<text x="36.50" y="768.14" class="tl" text-anchor="end">-5</text>
<text x="36.50" y="737.75" class="tl" text-anchor="end">0</text>
<text x="36.50" y="707.35" class="tl" text-anchor="end">5</text>
<text x="36.50" y="676.95" class="tl" text-anchor="end">10</text>
<text x="36.50" y="646.56" class="tl" text-anchor="end">15</text>
<text x="36.50" y="616.16" class="tl" text-anchor="end">20</text>
<text x="43.50" y="824.40" class="tl" text-anchor="middle">220</text>
<text x="99.84" y="824.40" class="tl" text-anchor="middle">240</text>
<text x="156.18" y="824.40" class="tl" text-anchor="middle">260</text>
<text x="212.52" y="824.40" class="tl" text-anchor="middle">280</text>
<text x="268.86" y="824.40" class="tl" text-anchor="middle">300</text>
<text x="325.20" y="824.40" class="tl" text-anchor="middle">320</text>
<text x="193.35" y="848.90" class="xt" text-anchor="middle">Wavelength(nm)</text>
<text transform="translate(15.50,715.20) rotate(-90)" class="yt" text-anchor="middle">CD/mdeg</text>
<text x="153.10" y="588.80" class="tt"><tspan y="588.80">T</tspan><tspan class="sb" y="595.30">2</tspan><tspan y="588.80">T</tspan><tspan class="sb" y="595.30">2</tspan><tspan y="588.80">T</tspan><tspan class="sb" y="595.30">3</tspan></text>
<text x="111.40" y="657.80" class="lb">Ca<tspan class="sp" dy="-6.5">2+</tspan></text>
<text x="154.70" y="701.80" class="lb">No ion</text>
<text x="186.30" y="621.40" class="lb">K<tspan class="sp" dy="-6.5">+</tspan></text>
<text x="213.40" y="640.80" class="lb">Na<tspan class="sp" dy="-6.5">+</tspan></text>
<text x="221.80" y="658.90" class="lb">Mg<tspan class="sp" dy="-6.5">2+</tspan></text>
<path d="M131.00,659.50L147.07,664.07" class="ar"/><path d="M151.40,665.30L146.10,665.66L147.08,662.20Z" class="ah"/>
<path d="M212.40,638.30L184.10,644.36" class="ar"/><path d="M179.70,645.30L184.21,642.49L184.97,646.01Z" class="ah"/>
<path d="M218.60,656.30L192.43,665.77" class="ar"/><path d="M188.20,667.30L192.29,663.91L193.51,667.29Z" class="ah"/>
<clipPath id="c5"><rect x="389.50" y="600.50" width="282.00" height="207.00"/></clipPath>
<path d="M418.71,807.30 L419.05,805.80 L419.41,804.27 L419.79,802.74 L420.17,801.18 L420.57,799.62 L420.99,798.06 L421.43,796.49 L421.89,794.91 L422.37,793.34 L422.88,791.78 L423.41,790.22 L423.96,788.67 L424.55,787.13 L425.16,785.61 L425.81,784.11 L426.49,782.63 L427.21,781.17 L427.96,779.74 L428.75,778.34 L429.58,776.97 L430.46,775.64 L431.37,774.34 L432.33,773.09 L433.34,771.88 L434.39,770.72 L435.49,769.61 L436.65,768.54 L437.86,767.54 L439.11,766.59 L440.42,765.68 L441.76,764.82 L443.13,763.99 L444.54,763.19 L445.96,762.42 L447.40,761.66 L448.85,760.91 L450.31,760.17 L451.76,759.43 L453.21,758.68 L454.64,757.92 L456.06,757.13 L457.45,756.32 L458.81,755.48 L460.13,754.60 L461.42,753.69 L462.67,752.74 L463.89,751.75 L465.08,750.73 L466.23,749.67 L467.35,748.59 L468.45,747.47 L469.51,746.32 L470.55,745.14 L471.56,743.94 L472.54,742.71 L473.50,741.45 L474.43,740.17 L475.34,738.86 L476.23,737.53 L477.09,736.18 L477.94,734.81 L478.77,733.42 L479.58,732.01 L480.37,730.59 L481.14,729.14 L481.90,727.69 L482.65,726.21 L483.38,724.73 L484.10,723.23 L484.81,721.73 L485.51,720.22 L486.22,718.70 L486.92,717.19 L487.62,715.67 L488.32,714.16 L489.03,712.66 L489.75,711.16 L490.48,709.67 L491.23,708.20 L491.99,706.74 L492.77,705.30 L493.57,703.88 L494.40,702.48 L495.25,701.11 L496.13,699.77 L497.05,698.45 L497.99,697.17 L498.98,695.93 L500.00,694.72 L501.07,693.55 L502.18,692.42 L503.34,691.34 L504.54,690.31 L505.80,689.33 L507.09,688.41 L508.43,687.57 L509.80,686.82 L511.19,686.17 L512.60,685.63 L514.03,685.21 L515.48,684.92 L516.92,684.78 L518.37,684.79 L519.82,684.94 L521.26,685.22 L522.69,685.63 L524.12,686.16 L525.54,686.78 L526.94,687.50 L528.34,688.31 L529.71,689.19 L531.06,690.13 L532.40,691.14 L533.71,692.18 L534.99,693.26 L536.25,694.37 L537.48,695.50 L538.69,696.65 L539.88,697.82 L541.05,699.01 L542.20,700.21 L543.33,701.42 L544.45,702.64 L545.56,703.86 L546.66,705.09 L547.75,706.32 L548.84,707.55 L549.93,708.77 L551.01,709.99 L552.09,711.21 L553.18,712.41 L554.27,713.60 L555.36,714.77 L556.47,715.93 L557.59,717.06 L558.72,718.18 L559.86,719.27 L561.02,720.33 L562.20,721.37 L563.41,722.37 L564.63,723.34 L565.88,724.27 L567.16,725.16 L568.47,726.01 L569.80,726.82 L571.16,727.59 L572.55,728.33 L573.96,729.02 L575.40,729.68 L576.86,730.30 L578.34,730.89 L579.84,731.45 L581.35,731.97 L582.89,732.46 L584.44,732.92 L586.00,733.36 L587.58,733.76 L589.17,734.14 L590.77,734.49 L592.38,734.81 L594.00,735.12 L595.63,735.40 L597.26,735.65 L598.90,735.89 L600.54,736.11 L602.18,736.30 L603.82,736.49 L605.46,736.65 L607.10,736.80 L608.73,736.93 L610.36,737.05 L611.99,737.16 L613.61,737.26 L615.22,737.34 L616.83,737.42 L618.43,737.49 L620.03,737.54 L621.62,737.59 L623.22,737.63 L624.80,737.66 L626.39,737.69 L627.97,737.71 L629.55,737.73 L631.13,737.73 L632.70,737.74 L634.28,737.74 L635.86,737.74 L637.43,737.73 L639.01,737.73 L640.59,737.72 L642.17,737.71 L643.75,737.70 L645.33,737.69 L646.92,737.69 L648.50,737.68 L650.10,737.68 L651.69,737.68 L653.29,737.68 L654.90,737.69 L656.51,737.70 L658.12,737.71 L659.75,737.74 L661.37,737.76 L663.01,737.80 L664.65,737.84 L666.30,737.89 L667.96,737.95 L669.63,738.02 L671.30,738.10" stroke="#d82ad8" clip-path="url(#c5)" class="cv"/>
<path d="M389.60,642.60 C390.03,644.17 391.07,647.80 392.20,652.00 C393.33,656.20 395.00,662.53 396.40,667.80 C397.80,673.07 399.28,678.57 400.60,683.60 C401.92,688.63 403.27,693.87 404.30,698.00 C405.33,702.13 405.48,704.20 406.80,708.40 C408.12,712.60 410.40,718.48 412.20,723.20 C414.00,727.92 415.82,732.45 417.60,736.70 C419.38,740.95 421.33,745.35 422.90,748.70 C424.47,752.05 425.82,754.70 427.00,756.80 C428.18,758.90 429.25,760.32 430.00,761.30 C430.75,762.28 431.02,761.62 431.50,762.70 C431.98,763.78 432.30,765.85 432.90,767.80 C433.50,769.75 434.37,772.08 435.10,774.40 C435.83,776.72 436.68,779.50 437.30,781.70 C437.92,783.90 438.32,786.02 438.80,787.60 C439.28,789.18 439.48,790.97 440.20,791.20 C440.92,791.43 442.12,789.85 443.10,789.00 C444.08,788.15 445.12,787.07 446.10,786.10 C447.08,785.13 448.15,783.75 449.00,783.20 C449.85,782.65 450.47,783.28 451.20,782.80 C451.93,782.32 452.73,781.45 453.40,780.30 C454.07,779.15 454.60,777.37 455.20,775.90 C455.80,774.43 456.33,772.12 457.00,771.50 C457.67,770.88 458.47,772.45 459.20,772.20 C459.93,771.95 460.80,771.33 461.40,770.00 C462.00,768.67 462.32,766.13 462.80,764.20 C463.28,762.27 463.68,760.23 464.30,758.40 C464.92,756.57 465.77,754.92 466.50,753.20 C467.23,751.48 467.97,750.17 468.70,748.10 C469.43,746.03 470.30,742.98 470.90,740.80 C471.50,738.62 471.38,737.83 472.30,735.00 C473.22,732.17 475.15,727.97 476.40,723.80 C477.65,719.63 478.68,714.15 479.80,710.00 C480.92,705.85 481.87,702.93 483.10,698.90 C484.33,694.87 485.83,689.88 487.20,685.80 C488.57,681.72 489.93,677.95 491.30,674.40 C492.67,670.85 494.05,667.37 495.40,664.50 C496.75,661.63 498.05,659.10 499.40,657.20 C500.75,655.30 501.92,654.18 503.50,653.10 C505.08,652.02 506.90,650.77 508.90,650.70 C510.90,650.63 513.53,651.60 515.50,652.70 C517.47,653.80 518.95,655.22 520.70,657.30 C522.45,659.38 524.25,662.35 526.00,665.20 C527.75,668.05 529.45,671.12 531.20,674.40 C532.95,677.68 534.73,681.18 536.50,684.90 C538.27,688.62 539.58,691.83 541.80,696.70 C544.02,701.57 547.40,709.33 549.80,714.10 C552.20,718.87 554.07,722.08 556.20,725.30 C558.33,728.52 560.45,730.98 562.60,733.40 C564.75,735.82 566.95,738.07 569.10,739.80 C571.25,741.53 573.37,742.60 575.50,743.80 C577.63,745.00 579.77,746.12 581.90,747.00 C584.03,747.88 585.78,748.60 588.30,749.10 C590.82,749.60 594.38,749.80 597.00,750.00 C599.62,750.20 601.67,750.33 604.00,750.30 C606.33,750.27 608.67,750.13 611.00,749.80 C613.33,749.47 615.67,748.88 618.00,748.30 C620.33,747.72 622.67,746.95 625.00,746.30 C627.33,745.65 629.65,744.98 632.00,744.40 C634.35,743.82 636.37,743.32 639.10,742.80 C641.83,742.28 644.90,741.80 648.40,741.30 C651.90,740.80 656.28,740.32 660.10,739.80 C663.92,739.28 669.43,738.47 671.30,738.20" stroke="#3ae03a" clip-path="url(#c5)" class="cv"/>
<path d="M389.60,741.00 L390.40,742.42 L391.21,743.84 L392.03,745.25 L392.86,746.65 L393.71,748.04 L394.57,749.42 L395.45,750.78 L396.34,752.13 L397.25,753.46 L398.17,754.77 L399.12,756.07 L400.08,757.35 L401.06,758.60 L402.06,759.84 L403.09,761.06 L404.13,762.25 L405.20,763.42 L406.29,764.56 L407.41,765.68 L408.55,766.77 L409.72,767.84 L410.91,768.87 L412.14,769.88 L413.39,770.85 L414.67,771.80 L415.98,772.71 L417.32,773.58 L418.69,774.43 L420.09,775.23 L421.53,776.00 L423.00,776.73 L424.51,777.43 L426.05,778.08 L427.63,778.69 L429.23,779.25 L430.85,779.74 L432.49,780.16 L434.12,780.48 L435.75,780.71 L437.36,780.83 L438.95,780.82 L440.51,780.67 L442.03,780.38 L443.50,779.94 L444.94,779.38 L446.33,778.71 L447.67,777.93 L448.98,777.07 L450.25,776.14 L451.47,775.16 L452.66,774.14 L453.81,773.08 L454.92,771.98 L456.00,770.84 L457.04,769.67 L458.05,768.47 L459.02,767.23 L459.96,765.97 L460.87,764.68 L461.76,763.36 L462.61,762.01 L463.43,760.64 L464.23,759.25 L465.00,757.84 L465.75,756.40 L466.47,754.95 L467.17,753.48 L467.85,751.99 L468.51,750.50 L469.15,748.98 L469.77,747.46 L470.37,745.93 L470.96,744.39 L471.53,742.84 L472.09,741.28 L472.63,739.72 L473.16,738.16 L473.68,736.60 L474.19,735.04 L474.69,733.48 L475.18,731.92 L475.67,730.36 L476.15,728.80 L476.62,727.24 L477.09,725.68 L477.55,724.13 L478.02,722.57 L478.48,721.02 L478.94,719.47 L479.40,717.93 L479.87,716.38 L480.33,714.84 L480.80,713.31 L481.28,711.78 L481.76,710.25 L482.25,708.73 L482.74,707.21 L483.24,705.69 L483.76,704.18 L484.28,702.68 L484.81,701.18 L485.36,699.69 L485.92,698.21 L486.50,696.73 L487.09,695.25 L487.70,693.79 L488.32,692.33 L488.96,690.88 L489.63,689.44 L490.31,688.00 L491.01,686.57 L491.74,685.16 L492.49,683.75 L493.27,682.34 L494.07,680.95 L494.89,679.57 L495.75,678.20 L496.63,676.84 L497.54,675.49 L498.48,674.15 L499.46,672.82 L500.46,671.51 L501.51,670.25 L502.61,669.07 L503.76,668.01 L504.97,667.10 L506.25,666.37 L507.60,665.84 L509.02,665.54 L510.48,665.45 L511.96,665.55 L513.45,665.84 L514.92,666.31 L516.35,666.95 L517.72,667.73 L519.04,668.66 L520.31,669.71 L521.52,670.87 L522.69,672.12 L523.81,673.45 L524.88,674.83 L525.91,676.27 L526.90,677.73 L527.86,679.21 L528.78,680.68 L529.66,682.14 L530.52,683.58 L531.34,685.01 L532.13,686.42 L532.90,687.83 L533.64,689.23 L534.35,690.63 L535.05,692.03 L535.72,693.43 L536.37,694.84 L537.01,696.24 L537.63,697.66 L538.24,699.07 L538.84,700.49 L539.43,701.91 L540.01,703.34 L540.59,704.77 L541.17,706.21 L541.75,707.66 L542.33,709.11 L542.92,710.57 L543.52,712.03 L544.12,713.51 L544.73,714.99 L545.36,716.48 L546.01,717.98 L546.67,719.49 L547.35,721.00 L548.05,722.52 L548.78,724.04 L549.52,725.56 L550.29,727.07 L551.07,728.57 L551.89,730.06 L552.72,731.54 L553.58,732.99 L554.47,734.42 L555.38,735.83 L556.32,737.21 L557.29,738.55 L558.29,739.86 L559.32,741.13 L560.37,742.36 L561.46,743.54 L562.58,744.67 L563.73,745.75 L564.91,746.77 L566.13,747.74 L567.38,748.64 L568.66,749.48 L569.98,750.26 L571.33,750.99 L572.70,751.65 L574.10,752.26 L575.53,752.82 L576.99,753.32 L578.46,753.77 L579.96,754.17 L581.48,754.52 L583.02,754.83 L584.57,755.09 L586.14,755.30 L587.73,755.48 L589.33,755.61 L590.94,755.70 L592.56,755.75 L594.19,755.77 L595.83,755.75 L597.47,755.70 L599.12,755.62 L600.78,755.50 L602.43,755.35 L604.09,755.18 L605.74,754.98 L607.39,754.75 L609.04,754.50 L610.68,754.23 L612.32,753.94 L613.95,753.62 L615.57,753.29 L617.17,752.95 L618.77,752.58 L620.35,752.21 L621.92,751.82 L623.48,751.41 L625.03,751.00 L626.57,750.58 L628.10,750.15 L629.63,749.71 L631.15,749.26 L632.66,748.81 L634.16,748.35 L635.67,747.89 L637.17,747.42 L638.67,746.96 L640.16,746.49 L641.66,746.02 L643.16,745.55 L644.66,745.08 L646.16,744.62 L647.67,744.15 L649.18,743.70 L650.69,743.25 L652.22,742.80 L653.74,742.36 L655.28,741.93 L656.83,741.51 L658.39,741.10 L659.95,740.71 L661.53,740.32 L663.13,739.95 L664.73,739.59 L666.35,739.24 L667.99,738.91 L669.64,738.60 L671.31,738.31" stroke="#cc2222" clip-path="url(#c5)" class="cv"/>
<path d="M389.59,620.51 L389.98,622.04 L390.38,623.57 L390.78,625.10 L391.17,626.64 L391.58,628.18 L391.98,629.71 L392.38,631.26 L392.79,632.80 L393.20,634.34 L393.61,635.89 L394.03,637.43 L394.44,638.98 L394.86,640.53 L395.28,642.08 L395.71,643.63 L396.13,645.18 L396.56,646.73 L397.00,648.28 L397.43,649.84 L397.87,651.39 L398.31,652.94 L398.76,654.49 L399.21,656.04 L399.66,657.60 L400.11,659.15 L400.57,660.70 L401.03,662.25 L401.50,663.80 L401.97,665.35 L402.44,666.89 L402.92,668.44 L403.40,669.99 L403.88,671.53 L404.37,673.07 L404.86,674.61 L405.35,676.15 L405.85,677.69 L406.36,679.23 L406.87,680.76 L407.38,682.29 L407.90,683.82 L408.42,685.35 L408.94,686.87 L409.47,688.40 L410.01,689.92 L410.55,691.43 L411.09,692.95 L411.64,694.46 L412.20,695.97 L412.75,697.47 L413.32,698.97 L413.89,700.47 L414.46,701.97 L415.04,703.46 L415.63,704.94 L416.22,706.43 L416.81,707.91 L417.41,709.38 L418.02,710.85 L418.63,712.32 L419.25,713.78 L419.87,715.24 L420.50,716.69 L421.14,718.14 L421.78,719.58 L422.42,721.02 L423.08,722.45 L423.74,723.88 L424.40,725.31 L425.07,726.74 L425.75,728.16 L426.44,729.58 L427.13,731.01 L427.83,732.43 L428.53,733.86 L429.24,735.30 L429.96,736.73 L430.69,738.17 L431.42,739.62 L432.16,741.07 L432.91,742.54 L433.66,744.01 L434.43,745.49 L435.20,746.98 L435.97,748.48 L436.76,749.99 L437.56,751.50 L438.39,752.99 L439.24,754.45 L440.12,755.87 L441.05,757.24 L442.02,758.54 L443.05,759.76 L444.13,760.88 L445.28,761.91 L446.50,762.81 L447.80,763.58 L449.17,764.21 L450.59,764.66 L452.05,764.92 L453.53,764.96 L455.00,764.77 L456.46,764.36 L457.87,763.77 L459.22,763.02 L460.49,762.12 L461.65,761.11 L462.71,760.00 L463.67,758.79 L464.56,757.50 L465.37,756.14 L466.12,754.72 L466.82,753.25 L467.47,751.75 L468.09,750.21 L468.69,748.66 L469.27,747.10 L469.84,745.54 L470.41,743.99 L470.97,742.43 L471.52,740.88 L472.07,739.33 L472.61,737.78 L473.14,736.23 L473.67,734.68 L474.19,733.13 L474.71,731.59 L475.22,730.04 L475.72,728.50 L476.22,726.96 L476.72,725.42 L477.21,723.88 L477.70,722.34 L478.18,720.80 L478.66,719.27 L479.13,717.73 L479.60,716.20 L480.07,714.67 L480.54,713.13 L481.00,711.60 L481.46,710.07 L481.91,708.54 L482.37,707.02 L482.82,705.49 L483.27,703.96 L483.72,702.44 L484.17,700.91 L484.61,699.39 L485.06,697.87 L485.50,696.34 L485.95,694.82 L486.39,693.30 L486.84,691.78 L487.28,690.26 L487.72,688.74 L488.17,687.22 L488.61,685.71 L489.06,684.19 L489.50,682.67 L489.95,681.16 L490.40,679.64 L490.85,678.13 L491.31,676.61 L491.76,675.10 L492.22,673.58 L492.68,672.07 L493.15,670.56 L493.61,669.05 L494.08,667.53 L494.56,666.02 L495.04,664.50 L495.52,662.98 L496.02,661.45 L496.52,659.92 L497.03,658.38 L497.54,656.83 L498.07,655.27 L498.61,653.71 L499.16,652.14 L499.72,650.55 L500.29,648.95 L500.87,647.34 L501.47,645.72 L502.09,644.10 L502.75,642.50 L503.45,640.94 L504.21,639.44 L505.03,638.02 L505.93,636.68 L506.92,635.46 L508.00,634.37 L509.19,633.43 L510.47,632.64 L511.82,632.03 L513.22,631.60 L514.64,631.35 L516.07,631.31 L517.49,631.48 L518.86,631.87 L520.18,632.49 L521.42,633.34 L522.58,634.39 L523.68,635.58 L524.74,636.86 L525.75,638.19 L526.73,639.54 L527.68,640.89 L528.59,642.26 L529.48,643.63 L530.34,645.02 L531.17,646.41 L531.97,647.82 L532.75,649.23 L533.51,650.65 L534.24,652.08 L534.96,653.52 L535.65,654.97 L536.32,656.42 L536.98,657.88 L537.62,659.34 L538.24,660.81 L538.85,662.28 L539.45,663.76 L540.04,665.25 L540.62,666.74 L541.18,668.23 L541.74,669.72 L542.29,671.22 L542.84,672.72 L543.38,674.23 L543.92,675.73 L544.45,677.24 L544.99,678.74 L545.53,680.25 L546.06,681.76 L546.60,683.26 L547.15,684.77 L547.70,686.28 L548.25,687.78 L548.81,689.28 L549.39,690.78 L549.97,692.28 L550.56,693.77 L551.16,695.26 L551.78,696.75 L552.41,698.23 L553.06,699.71 L553.73,701.18 L554.41,702.65 L555.12,704.11 L555.84,705.56 L556.59,707.01 L557.36,708.45 L558.15,709.88 L558.97,711.31 L559.81,712.72 L560.68,714.12 L561.57,715.51 L562.48,716.89 L563.42,718.24 L564.39,719.58 L565.37,720.89 L566.38,722.18 L567.42,723.45 L568.48,724.69 L569.56,725.91 L570.66,727.09 L571.78,728.24 L572.93,729.36 L574.10,730.45 L575.30,731.49 L576.51,732.50 L577.75,733.46 L579.01,734.39 L580.29,735.27 L581.59,736.10 L582.91,736.89 L584.25,737.63 L585.62,738.31 L587.00,738.94 L588.41,739.52 L589.84,740.04 L591.28,740.50 L592.75,740.90 L594.24,741.24 L595.74,741.52 L597.27,741.73 L598.81,741.87 L600.38,741.95 L601.96,741.95 L603.56,741.88 L605.18,741.73 L606.82,741.53 L608.47,741.27 L610.13,740.96 L611.80,740.62 L613.47,740.26 L615.15,739.88 L616.83,739.50 L618.50,739.12 L620.17,738.75 L621.84,738.41 L623.49,738.10 L625.13,737.84 L626.75,737.62 L628.36,737.46 L629.96,737.35 L631.54,737.28 L633.12,737.25 L634.68,737.26 L636.24,737.30 L637.79,737.36 L639.34,737.45 L640.88,737.56 L642.42,737.69 L643.96,737.82 L645.50,737.97 L647.04,738.12 L648.58,738.27 L650.13,738.41 L651.68,738.55 L653.25,738.67 L654.82,738.78 L656.40,738.87 L657.99,738.93 L659.59,738.97 L661.21,738.97 L662.85,738.94 L664.50,738.87 L666.17,738.75 L667.86,738.59 L669.57,738.37 L671.30,738.10" stroke="#1c14aa" clip-path="url(#c5)" class="cv"/>
<path d="M389.61,732.30 L390.67,733.39 L391.78,734.48 L392.94,735.55 L394.13,736.61 L395.36,737.66 L396.63,738.69 L397.94,739.69 L399.27,740.67 L400.64,741.63 L402.03,742.55 L403.45,743.43 L404.89,744.28 L406.36,745.10 L407.85,745.86 L409.35,746.59 L410.87,747.26 L412.40,747.88 L413.94,748.45 L415.49,748.96 L417.05,749.41 L418.61,749.80 L420.18,750.12 L421.75,750.37 L423.31,750.55 L424.87,750.66 L426.43,750.70 L427.99,750.67 L429.54,750.57 L431.08,750.41 L432.62,750.19 L434.15,749.91 L435.67,749.57 L437.18,749.17 L438.68,748.71 L440.17,748.20 L441.65,747.63 L443.12,747.01 L444.57,746.34 L446.01,745.63 L447.44,744.86 L448.85,744.05 L450.24,743.20 L451.61,742.30 L452.97,741.37 L454.31,740.39 L455.63,739.39 L456.94,738.35 L458.24,737.29 L459.52,736.21 L460.80,735.12 L462.07,734.01 L463.34,732.90 L464.60,731.79 L465.87,730.68 L467.13,729.58 L468.40,728.49 L469.67,727.41 L470.95,726.36 L472.24,725.33 L473.54,724.34 L474.85,723.37 L476.18,722.45 L477.52,721.57 L478.88,720.74 L480.26,719.96 L481.66,719.23 L483.08,718.57 L484.53,717.97 L486.00,717.45 L487.49,716.99 L488.99,716.61 L490.50,716.30 L492.02,716.08 L493.55,715.94 L495.08,715.89 L496.60,715.93 L498.12,716.06 L499.64,716.29 L501.14,716.62 L502.63,717.04 L504.10,717.55 L505.56,718.14 L507.01,718.81 L508.45,719.54 L509.87,720.33 L511.28,721.18 L512.67,722.06 L514.06,722.98 L515.43,723.92 L516.80,724.88 L518.16,725.86 L519.51,726.84 L520.87,727.81 L522.23,728.77 L523.59,729.71 L524.96,730.62 L526.34,731.50 L527.74,732.33 L529.14,733.10 L530.57,733.82 L532.01,734.47 L533.48,735.05 L534.96,735.55 L536.47,735.98 L537.99,736.34 L539.53,736.64 L541.09,736.88 L542.65,737.06 L544.23,737.19 L545.81,737.28 L547.40,737.32 L548.99,737.32 L550.59,737.29 L552.18,737.22 L553.78,737.12 L555.39,737.00 L556.99,736.84 L558.60,736.67 L560.21,736.48 L561.82,736.26 L563.43,736.04 L565.04,735.80 L566.66,735.55 L568.28,735.29 L569.89,735.03 L571.51,734.77 L573.13,734.51 L574.75,734.25 L576.36,734.00 L577.98,733.75 L579.60,733.52 L581.22,733.30 L582.83,733.10 L584.45,732.92 L586.07,732.76 L587.68,732.62 L589.29,732.51 L590.91,732.43 L592.52,732.38 L594.12,732.36 L595.73,732.37 L597.34,732.40 L598.94,732.46 L600.55,732.54 L602.15,732.65 L603.75,732.77 L605.35,732.91 L606.95,733.07 L608.55,733.25 L610.15,733.44 L611.75,733.65 L613.35,733.86 L614.95,734.09 L616.54,734.33 L618.14,734.57 L619.74,734.83 L621.34,735.08 L622.93,735.35 L624.53,735.61 L626.13,735.87 L627.73,736.14 L629.33,736.40 L630.92,736.66 L632.52,736.92 L634.12,737.17 L635.72,737.41 L637.33,737.64 L638.93,737.87 L640.53,738.08 L642.14,738.28 L643.74,738.46 L645.35,738.63 L646.96,738.78 L648.57,738.92 L650.18,739.03 L651.79,739.12 L653.41,739.20 L655.02,739.24 L656.64,739.26 L658.26,739.26 L659.89,739.22 L661.51,739.16 L663.14,739.07 L664.76,738.94 L666.39,738.78 L668.03,738.59 L669.66,738.35 L671.30,738.09" stroke="#111111" clip-path="url(#c5)" class="cv"/>
<path d="M389.00,600.50H672.00" class="ax axR"/>
<path d="M389.00,807.50H672.00" class="ax axR"/>
<path d="M389.50,600.00V808.00" class="ax axR"/>
<path d="M671.50,600.00V808.00" class="ax axR"/>
<path d="M389.50,807.50H386.90 M389.50,793.70H385.30 M389.50,779.90H386.90 M389.50,766.10H385.30 M389.50,752.30H386.90 M389.50,738.50H385.30 M389.50,724.70H386.90 M389.50,710.90H385.30 M389.50,697.10H386.90 M389.50,683.30H385.30 M389.50,669.50H386.90 M389.50,655.70H385.30 M389.50,641.90H386.90 M389.50,628.10H385.30 M389.50,614.30H386.90 M389.50,600.50H385.30 M389.50,807.50V811.70 M417.70,807.50V810.10 M445.90,807.50V811.70 M474.10,807.50V810.10 M502.30,807.50V811.70 M530.50,807.50V810.10 M558.70,807.50V811.70 M586.90,807.50V810.10 M615.10,807.50V811.70 M643.30,807.50V810.10 M671.50,807.50V811.70" class="tk"/>
<text x="382.50" y="797.50" class="tl" text-anchor="end">-4</text>
<text x="382.50" y="769.90" class="tl" text-anchor="end">-2</text>
<text x="382.50" y="742.30" class="tl" text-anchor="end">0</text>
<text x="382.50" y="714.70" class="tl" text-anchor="end">2</text>
<text x="382.50" y="687.10" class="tl" text-anchor="end">4</text>
<text x="382.50" y="659.50" class="tl" text-anchor="end">6</text>
<text x="382.50" y="631.90" class="tl" text-anchor="end">8</text>
<text x="382.50" y="604.30" class="tl" text-anchor="end">10</text>
<text x="389.50" y="825.00" class="tl" text-anchor="middle">220</text>
<text x="445.90" y="825.00" class="tl" text-anchor="middle">240</text>
<text x="502.30" y="825.00" class="tl" text-anchor="middle">260</text>
<text x="558.70" y="825.00" class="tl" text-anchor="middle">280</text>
<text x="615.10" y="825.00" class="tl" text-anchor="middle">300</text>
<text x="671.50" y="825.00" class="tl" text-anchor="middle">320</text>
<text x="539.50" y="849.50" class="xt" text-anchor="middle">Wavelength(nm)</text>
<text transform="translate(361.50,715.50) rotate(-90)" class="yt" text-anchor="middle">CD/mdeg</text>
<text x="516.50" y="591.00" class="tt"><tspan y="591.00">T</tspan><tspan class="sb" y="597.50">2</tspan><tspan y="591.00">T</tspan><tspan class="sb" y="597.50">2</tspan></text>
<text x="521.80" y="628.40" class="lb">K<tspan class="sp" dy="-6.5">+</tspan></text>
<text x="541.80" y="655.30" class="lb">Ca<tspan class="sp" dy="-6.5">2+</tspan></text>
<text x="464.30" y="669.10" class="lb">Na<tspan class="sp" dy="-6.5">+</tspan></text>
<text x="451.80" y="700.20" class="lb">Mg<tspan class="sp" dy="-6.5">2+</tspan></text>
<text x="498.50" y="743.50" class="lb">No ion</text>
<path d="M538.50,652.70L524.56,654.67" class="ar"/><path d="M520.10,655.30L524.80,652.82L525.30,656.38Z" class="ah"/>
<path d="M482.30,668.20L498.20,668.43" class="ar"/><path d="M502.70,668.50L497.67,670.23L497.73,666.63Z" class="ah"/>
<path d="M472.50,699.30L492.50,698.65" class="ar"/><path d="M497.00,698.50L492.06,700.46L491.94,696.86Z" class="ah"/>
</svg>
</body></html>
